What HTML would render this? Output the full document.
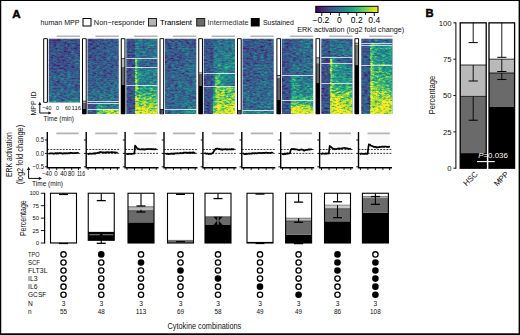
<!DOCTYPE html>
<html><head><meta charset="utf-8"><title>figure</title>
<style>
html,body{margin:0;padding:0;background:#fff;}
body{width:520px;height:335px;overflow:hidden;font-family:"Liberation Sans", sans-serif;}
svg{display:block;font-family:"Liberation Sans", sans-serif;}
text{font-family:"Liberation Sans", sans-serif;}
</style></head><body>
<svg width="520" height="335" viewBox="0 0 520 335" fill="#111">
<defs>
<linearGradient id="vir" x1="0" x2="1" y1="0" y2="0"><stop offset="0.0" stop-color="#440154"/><stop offset="0.1" stop-color="#482475"/><stop offset="0.2" stop-color="#414487"/><stop offset="0.3" stop-color="#355f8d"/><stop offset="0.4" stop-color="#2a788e"/><stop offset="0.5" stop-color="#21918c"/><stop offset="0.6" stop-color="#22a884"/><stop offset="0.7" stop-color="#44bf70"/><stop offset="0.8" stop-color="#7ad151"/><stop offset="0.9" stop-color="#bddf26"/><stop offset="1.0" stop-color="#fde725"/></linearGradient>
<filter id="hf0" x="0" y="0" width="1" height="1" color-interpolation-filters="sRGB"><feTurbulence type="fractalNoise" baseFrequency="0.28 0.6" numOctaves="3" seed="3" result="n"/><feColorMatrix in="n" type="matrix" values="1 0 0 0 0 1 0 0 0 0 1 0 0 0 0 0 0 0 0 1" result="g"/><feComposite in="SourceGraphic" in2="g" operator="arithmetic" k1="0.75" k2="0.62" k3="0.42" k4="-0.21" result="v"/><feTurbulence type="fractalNoise" baseFrequency="0.07 0.11" numOctaves="2" seed="53" result="n2"/><feColorMatrix in="n2" type="matrix" values="1 0 0 0 0 1 0 0 0 0 1 0 0 0 0 0 0 0 0 1" result="g2"/><feComposite in="v" in2="g2" operator="arithmetic" k1="0.3" k2="0.85" k3="0.08" k4="-0.04" result="v2"/><feComponentTransfer in="v2"><feFuncR type="table" tableValues="0.27 0.28 0.25 0.21 0.16 0.13 0.13 0.27 0.48 0.74 0.99"/><feFuncG type="table" tableValues="0 0.14 0.27 0.37 0.47 0.57 0.66 0.75 0.82 0.87 0.91"/><feFuncB type="table" tableValues="0.33 0.46 0.53 0.55 0.56 0.55 0.52 0.44 0.32 0.15 0.15"/><feFuncA type="linear" slope="0" intercept="1"/></feComponentTransfer></filter>
<clipPath id="hc0"><rect x="48.75" y="38.75" width="31.25" height="63.85"/></clipPath>
<linearGradient id="g1" gradientUnits="userSpaceOnUse" x1="48.75" x2="80" y1="0" y2="0"><stop offset="0%" stop-color="#3b3b3b"/><stop offset="26.24%" stop-color="#3b3b3b"/><stop offset="27.52%" stop-color="#3d3d3d"/><stop offset="99.84%" stop-color="#424242"/><stop offset="100%" stop-color="#424242"/></linearGradient>
<linearGradient id="g2" gradientUnits="userSpaceOnUse" x1="0" x2="0" y1="38.75" y2="100.6"><stop offset="0%" stop-color="#fff" stop-opacity="0"/><stop offset="35%" stop-color="#fff" stop-opacity="0.02"/><stop offset="70%" stop-color="#fff" stop-opacity="0.08"/><stop offset="100%" stop-color="#fff" stop-opacity="0.13"/></linearGradient>
<linearGradient id="g3" gradientUnits="userSpaceOnUse" x1="48.75" x2="80" y1="0" y2="0"><stop offset="0%" stop-color="#6b6b6b"/><stop offset="26.24%" stop-color="#6b6b6b"/><stop offset="27.52%" stop-color="#757575"/><stop offset="99.84%" stop-color="#8a8a8a"/><stop offset="100%" stop-color="#8a8a8a"/></linearGradient>
<filter id="hf1" x="0" y="0" width="1" height="1" color-interpolation-filters="sRGB"><feTurbulence type="fractalNoise" baseFrequency="0.28 0.6" numOctaves="3" seed="10" result="n"/><feColorMatrix in="n" type="matrix" values="1 0 0 0 0 1 0 0 0 0 1 0 0 0 0 0 0 0 0 1" result="g"/><feComposite in="SourceGraphic" in2="g" operator="arithmetic" k1="0.75" k2="0.62" k3="0.42" k4="-0.21" result="v"/><feTurbulence type="fractalNoise" baseFrequency="0.07 0.11" numOctaves="2" seed="60" result="n2"/><feColorMatrix in="n2" type="matrix" values="1 0 0 0 0 1 0 0 0 0 1 0 0 0 0 0 0 0 0 1" result="g2"/><feComposite in="v" in2="g2" operator="arithmetic" k1="0.3" k2="0.85" k3="0.08" k4="-0.04" result="v2"/><feComponentTransfer in="v2"><feFuncR type="table" tableValues="0.27 0.28 0.25 0.21 0.16 0.13 0.13 0.27 0.48 0.74 0.99"/><feFuncG type="table" tableValues="0 0.14 0.27 0.37 0.47 0.57 0.66 0.75 0.82 0.87 0.91"/><feFuncB type="table" tableValues="0.33 0.46 0.53 0.55 0.56 0.55 0.52 0.44 0.32 0.15 0.15"/><feFuncA type="linear" slope="0" intercept="1"/></feComponentTransfer></filter>
<clipPath id="hc1"><rect x="87.5" y="38.75" width="31.25" height="75.25"/></clipPath>
<linearGradient id="g4" gradientUnits="userSpaceOnUse" x1="87.5" x2="118.75" y1="0" y2="0"><stop offset="0%" stop-color="#3d3d3d"/><stop offset="26.24%" stop-color="#3d3d3d"/><stop offset="27.52%" stop-color="#424242"/><stop offset="99.84%" stop-color="#4a4a4a"/><stop offset="100%" stop-color="#4a4a4a"/></linearGradient>
<linearGradient id="g5" gradientUnits="userSpaceOnUse" x1="0" x2="0" y1="38.75" y2="101"><stop offset="0%" stop-color="#fff" stop-opacity="0"/><stop offset="50%" stop-color="#fff" stop-opacity="0.03"/><stop offset="80%" stop-color="#fff" stop-opacity="0.1"/><stop offset="100%" stop-color="#fff" stop-opacity="0.14"/></linearGradient>
<linearGradient id="g6" gradientUnits="userSpaceOnUse" x1="87.5" x2="118.75" y1="0" y2="0"><stop offset="0%" stop-color="#383838"/><stop offset="26.24%" stop-color="#383838"/><stop offset="27.52%" stop-color="#737373"/><stop offset="40.32%" stop-color="#5c5c5c"/><stop offset="99.84%" stop-color="#4c4c4c"/><stop offset="100%" stop-color="#4c4c4c"/></linearGradient>
<linearGradient id="g7" gradientUnits="userSpaceOnUse" x1="87.5" x2="118.75" y1="0" y2="0"><stop offset="0%" stop-color="#424242"/><stop offset="26.24%" stop-color="#424242"/><stop offset="27.52%" stop-color="#575757"/><stop offset="37.12%" stop-color="#9e9e9e"/><stop offset="49.92%" stop-color="#757575"/><stop offset="99.84%" stop-color="#6b6b6b"/><stop offset="100%" stop-color="#6b6b6b"/></linearGradient>
<linearGradient id="g8" gradientUnits="userSpaceOnUse" x1="87.5" x2="118.75" y1="0" y2="0"><stop offset="0%" stop-color="#424242"/><stop offset="26.24%" stop-color="#424242"/><stop offset="27.52%" stop-color="#616161"/><stop offset="37.12%" stop-color="#bdbdbd"/><stop offset="99.84%" stop-color="#d6d6d6"/><stop offset="100%" stop-color="#d6d6d6"/></linearGradient>
<filter id="hf2" x="0" y="0" width="1" height="1" color-interpolation-filters="sRGB"><feTurbulence type="fractalNoise" baseFrequency="0.28 0.6" numOctaves="3" seed="17" result="n"/><feColorMatrix in="n" type="matrix" values="1 0 0 0 0 1 0 0 0 0 1 0 0 0 0 0 0 0 0 1" result="g"/><feComposite in="SourceGraphic" in2="g" operator="arithmetic" k1="0.75" k2="0.62" k3="0.42" k4="-0.21" result="v"/><feTurbulence type="fractalNoise" baseFrequency="0.07 0.11" numOctaves="2" seed="67" result="n2"/><feColorMatrix in="n2" type="matrix" values="1 0 0 0 0 1 0 0 0 0 1 0 0 0 0 0 0 0 0 1" result="g2"/><feComposite in="v" in2="g2" operator="arithmetic" k1="0.3" k2="0.85" k3="0.08" k4="-0.04" result="v2"/><feComponentTransfer in="v2"><feFuncR type="table" tableValues="0.27 0.28 0.25 0.21 0.16 0.13 0.13 0.27 0.48 0.74 0.99"/><feFuncG type="table" tableValues="0 0.14 0.27 0.37 0.47 0.57 0.66 0.75 0.82 0.87 0.91"/><feFuncB type="table" tableValues="0.33 0.46 0.53 0.55 0.56 0.55 0.52 0.44 0.32 0.15 0.15"/><feFuncA type="linear" slope="0" intercept="1"/></feComponentTransfer></filter>
<clipPath id="hc2"><rect x="126.25" y="38.75" width="31.25" height="75.25"/></clipPath>
<linearGradient id="g9" gradientUnits="userSpaceOnUse" x1="126.25" x2="157.5" y1="0" y2="0"><stop offset="0%" stop-color="#3d3d3d"/><stop offset="26.24%" stop-color="#3d3d3d"/><stop offset="27.52%" stop-color="#666666"/><stop offset="37.12%" stop-color="#5e5e5e"/><stop offset="99.84%" stop-color="#5c5c5c"/><stop offset="100%" stop-color="#5c5c5c"/></linearGradient>
<linearGradient id="g10" gradientUnits="userSpaceOnUse" x1="126.25" x2="157.5" y1="0" y2="0"><stop offset="0%" stop-color="#3b3b3b"/><stop offset="26.24%" stop-color="#3b3b3b"/><stop offset="27.52%" stop-color="#808080"/><stop offset="30.72%" stop-color="#ebebeb"/><stop offset="35.2%" stop-color="#808080"/><stop offset="46.72%" stop-color="#575757"/><stop offset="99.84%" stop-color="#4a4a4a"/><stop offset="100%" stop-color="#4a4a4a"/></linearGradient>
<linearGradient id="g11" gradientUnits="userSpaceOnUse" x1="126.25" x2="157.5" y1="0" y2="0"><stop offset="0%" stop-color="#3d3d3d"/><stop offset="26.24%" stop-color="#3d3d3d"/><stop offset="27.52%" stop-color="#808080"/><stop offset="30.72%" stop-color="#dbdbdb"/><stop offset="35.84%" stop-color="#8c8c8c"/><stop offset="53.12%" stop-color="#707070"/><stop offset="99.84%" stop-color="#6b6b6b"/><stop offset="100%" stop-color="#6b6b6b"/></linearGradient>
<linearGradient id="g12" gradientUnits="userSpaceOnUse" x1="126.25" x2="157.5" y1="0" y2="0"><stop offset="0%" stop-color="#404040"/><stop offset="26.24%" stop-color="#404040"/><stop offset="27.52%" stop-color="#808080"/><stop offset="30.72%" stop-color="#dbdbdb"/><stop offset="38.72%" stop-color="#949494"/><stop offset="99.84%" stop-color="#858585"/><stop offset="100%" stop-color="#858585"/></linearGradient>
<linearGradient id="g13" gradientUnits="userSpaceOnUse" x1="0" x2="0" y1="85" y2="114"><stop offset="0%" stop-color="#fff" stop-opacity="0"/><stop offset="25%" stop-color="#fff" stop-opacity="0.08"/><stop offset="45%" stop-color="#fff" stop-opacity="0.4"/><stop offset="70%" stop-color="#fff" stop-opacity="0.82"/><stop offset="100%" stop-color="#fff" stop-opacity="1"/></linearGradient>
<filter id="hf3" x="0" y="0" width="1" height="1" color-interpolation-filters="sRGB"><feTurbulence type="fractalNoise" baseFrequency="0.28 0.6" numOctaves="3" seed="24" result="n"/><feColorMatrix in="n" type="matrix" values="1 0 0 0 0 1 0 0 0 0 1 0 0 0 0 0 0 0 0 1" result="g"/><feComposite in="SourceGraphic" in2="g" operator="arithmetic" k1="0.75" k2="0.62" k3="0.42" k4="-0.21" result="v"/><feTurbulence type="fractalNoise" baseFrequency="0.07 0.11" numOctaves="2" seed="74" result="n2"/><feColorMatrix in="n2" type="matrix" values="1 0 0 0 0 1 0 0 0 0 1 0 0 0 0 0 0 0 0 1" result="g2"/><feComposite in="v" in2="g2" operator="arithmetic" k1="0.3" k2="0.85" k3="0.08" k4="-0.04" result="v2"/><feComponentTransfer in="v2"><feFuncR type="table" tableValues="0.27 0.28 0.25 0.21 0.16 0.13 0.13 0.27 0.48 0.74 0.99"/><feFuncG type="table" tableValues="0 0.14 0.27 0.37 0.47 0.57 0.66 0.75 0.82 0.87 0.91"/><feFuncB type="table" tableValues="0.33 0.46 0.53 0.55 0.56 0.55 0.52 0.44 0.32 0.15 0.15"/><feFuncA type="linear" slope="0" intercept="1"/></feComponentTransfer></filter>
<clipPath id="hc3"><rect x="165" y="38.75" width="31.25" height="75.25"/></clipPath>
<linearGradient id="g14" gradientUnits="userSpaceOnUse" x1="165" x2="196.25" y1="0" y2="0"><stop offset="0%" stop-color="#424242"/><stop offset="26.24%" stop-color="#424242"/><stop offset="27.52%" stop-color="#474747"/><stop offset="99.84%" stop-color="#4c4c4c"/><stop offset="100%" stop-color="#4c4c4c"/></linearGradient>
<linearGradient id="g15" gradientUnits="userSpaceOnUse" x1="0" x2="0" y1="38.75" y2="109.2"><stop offset="0%" stop-color="#fff" stop-opacity="0"/><stop offset="30%" stop-color="#fff" stop-opacity="0.03"/><stop offset="60%" stop-color="#fff" stop-opacity="0.07"/><stop offset="100%" stop-color="#fff" stop-opacity="0.1"/></linearGradient>
<linearGradient id="g16" gradientUnits="userSpaceOnUse" x1="165" x2="196.25" y1="0" y2="0"><stop offset="0%" stop-color="#545454"/><stop offset="26.24%" stop-color="#545454"/><stop offset="27.52%" stop-color="#6b6b6b"/><stop offset="99.84%" stop-color="#808080"/><stop offset="100%" stop-color="#808080"/></linearGradient>
<filter id="hf4" x="0" y="0" width="1" height="1" color-interpolation-filters="sRGB"><feTurbulence type="fractalNoise" baseFrequency="0.28 0.6" numOctaves="3" seed="31" result="n"/><feColorMatrix in="n" type="matrix" values="1 0 0 0 0 1 0 0 0 0 1 0 0 0 0 0 0 0 0 1" result="g"/><feComposite in="SourceGraphic" in2="g" operator="arithmetic" k1="0.75" k2="0.62" k3="0.42" k4="-0.21" result="v"/><feTurbulence type="fractalNoise" baseFrequency="0.07 0.11" numOctaves="2" seed="81" result="n2"/><feColorMatrix in="n2" type="matrix" values="1 0 0 0 0 1 0 0 0 0 1 0 0 0 0 0 0 0 0 1" result="g2"/><feComposite in="v" in2="g2" operator="arithmetic" k1="0.3" k2="0.85" k3="0.08" k4="-0.04" result="v2"/><feComponentTransfer in="v2"><feFuncR type="table" tableValues="0.27 0.28 0.25 0.21 0.16 0.13 0.13 0.27 0.48 0.74 0.99"/><feFuncG type="table" tableValues="0 0.14 0.27 0.37 0.47 0.57 0.66 0.75 0.82 0.87 0.91"/><feFuncB type="table" tableValues="0.33 0.46 0.53 0.55 0.56 0.55 0.52 0.44 0.32 0.15 0.15"/><feFuncA type="linear" slope="0" intercept="1"/></feComponentTransfer></filter>
<clipPath id="hc4"><rect x="203.75" y="38.75" width="31.25" height="75.25"/></clipPath>
<linearGradient id="g17" gradientUnits="userSpaceOnUse" x1="203.75" x2="235" y1="0" y2="0"><stop offset="0%" stop-color="#454545"/><stop offset="26.24%" stop-color="#454545"/><stop offset="27.52%" stop-color="#4c4c4c"/><stop offset="46.72%" stop-color="#5e5e5e"/><stop offset="99.84%" stop-color="#636363"/><stop offset="100%" stop-color="#636363"/></linearGradient>
<linearGradient id="g18" gradientUnits="userSpaceOnUse" x1="0" x2="0" y1="38.75" y2="73"><stop offset="0%" stop-color="#fff" stop-opacity="0"/><stop offset="50%" stop-color="#fff" stop-opacity="0.08"/><stop offset="80%" stop-color="#fff" stop-opacity="0.14"/><stop offset="100%" stop-color="#fff" stop-opacity="0.08"/></linearGradient>
<linearGradient id="g19" gradientUnits="userSpaceOnUse" x1="203.75" x2="235" y1="0" y2="0"><stop offset="0%" stop-color="#595959"/><stop offset="26.24%" stop-color="#595959"/><stop offset="27.52%" stop-color="#666666"/><stop offset="53.12%" stop-color="#cccccc"/><stop offset="99.84%" stop-color="#808080"/><stop offset="100%" stop-color="#808080"/></linearGradient>
<linearGradient id="g20" gradientUnits="userSpaceOnUse" x1="203.75" x2="235" y1="0" y2="0"><stop offset="0%" stop-color="#404040"/><stop offset="26.24%" stop-color="#404040"/><stop offset="27.52%" stop-color="#454545"/><stop offset="33.92%" stop-color="#616161"/><stop offset="38.4%" stop-color="#cccccc"/><stop offset="48.32%" stop-color="#8c8c8c"/><stop offset="62.72%" stop-color="#707070"/><stop offset="99.84%" stop-color="#6b6b6b"/><stop offset="100%" stop-color="#6b6b6b"/></linearGradient>
<linearGradient id="g21" gradientUnits="userSpaceOnUse" x1="203.75" x2="235" y1="0" y2="0"><stop offset="0%" stop-color="#424242"/><stop offset="26.24%" stop-color="#424242"/><stop offset="27.52%" stop-color="#454545"/><stop offset="32.64%" stop-color="#616161"/><stop offset="40.32%" stop-color="#cccccc"/><stop offset="59.52%" stop-color="#c7c7c7"/><stop offset="99.84%" stop-color="#adadad"/><stop offset="100%" stop-color="#adadad"/></linearGradient>
<linearGradient id="g22" gradientUnits="userSpaceOnUse" x1="0" x2="0" y1="86.6" y2="114"><stop offset="0%" stop-color="#fff" stop-opacity="0.08"/><stop offset="40%" stop-color="#fff" stop-opacity="0.28"/><stop offset="100%" stop-color="#fff" stop-opacity="0.8"/></linearGradient>
<filter id="hf5" x="0" y="0" width="1" height="1" color-interpolation-filters="sRGB"><feTurbulence type="fractalNoise" baseFrequency="0.28 0.6" numOctaves="3" seed="38" result="n"/><feColorMatrix in="n" type="matrix" values="1 0 0 0 0 1 0 0 0 0 1 0 0 0 0 0 0 0 0 1" result="g"/><feComposite in="SourceGraphic" in2="g" operator="arithmetic" k1="0.75" k2="0.62" k3="0.42" k4="-0.21" result="v"/><feTurbulence type="fractalNoise" baseFrequency="0.07 0.11" numOctaves="2" seed="88" result="n2"/><feColorMatrix in="n2" type="matrix" values="1 0 0 0 0 1 0 0 0 0 1 0 0 0 0 0 0 0 0 1" result="g2"/><feComposite in="v" in2="g2" operator="arithmetic" k1="0.3" k2="0.85" k3="0.08" k4="-0.04" result="v2"/><feComponentTransfer in="v2"><feFuncR type="table" tableValues="0.27 0.28 0.25 0.21 0.16 0.13 0.13 0.27 0.48 0.74 0.99"/><feFuncG type="table" tableValues="0 0.14 0.27 0.37 0.47 0.57 0.66 0.75 0.82 0.87 0.91"/><feFuncB type="table" tableValues="0.33 0.46 0.53 0.55 0.56 0.55 0.52 0.44 0.32 0.15 0.15"/><feFuncA type="linear" slope="0" intercept="1"/></feComponentTransfer></filter>
<clipPath id="hc5"><rect x="242.5" y="38.75" width="31.25" height="75.25"/></clipPath>
<linearGradient id="g23" gradientUnits="userSpaceOnUse" x1="242.5" x2="273.75" y1="0" y2="0"><stop offset="0%" stop-color="#424242"/><stop offset="26.24%" stop-color="#424242"/><stop offset="27.52%" stop-color="#474747"/><stop offset="99.84%" stop-color="#4a4a4a"/><stop offset="100%" stop-color="#4a4a4a"/></linearGradient>
<linearGradient id="g24" gradientUnits="userSpaceOnUse" x1="0" x2="0" y1="38.75" y2="110.6"><stop offset="0%" stop-color="#fff" stop-opacity="0"/><stop offset="30%" stop-color="#fff" stop-opacity="0.02"/><stop offset="60%" stop-color="#fff" stop-opacity="0.06"/><stop offset="100%" stop-color="#fff" stop-opacity="0.1"/></linearGradient>
<linearGradient id="g25" gradientUnits="userSpaceOnUse" x1="242.5" x2="273.75" y1="0" y2="0"><stop offset="0%" stop-color="#5c5c5c"/><stop offset="26.24%" stop-color="#5c5c5c"/><stop offset="27.52%" stop-color="#6b6b6b"/><stop offset="99.84%" stop-color="#7a7a7a"/><stop offset="100%" stop-color="#7a7a7a"/></linearGradient>
<filter id="hf6" x="0" y="0" width="1" height="1" color-interpolation-filters="sRGB"><feTurbulence type="fractalNoise" baseFrequency="0.28 0.6" numOctaves="3" seed="45" result="n"/><feColorMatrix in="n" type="matrix" values="1 0 0 0 0 1 0 0 0 0 1 0 0 0 0 0 0 0 0 1" result="g"/><feComposite in="SourceGraphic" in2="g" operator="arithmetic" k1="0.75" k2="0.62" k3="0.42" k4="-0.21" result="v"/><feTurbulence type="fractalNoise" baseFrequency="0.07 0.11" numOctaves="2" seed="95" result="n2"/><feColorMatrix in="n2" type="matrix" values="1 0 0 0 0 1 0 0 0 0 1 0 0 0 0 0 0 0 0 1" result="g2"/><feComposite in="v" in2="g2" operator="arithmetic" k1="0.3" k2="0.85" k3="0.08" k4="-0.04" result="v2"/><feComponentTransfer in="v2"><feFuncR type="table" tableValues="0.27 0.28 0.25 0.21 0.16 0.13 0.13 0.27 0.48 0.74 0.99"/><feFuncG type="table" tableValues="0 0.14 0.27 0.37 0.47 0.57 0.66 0.75 0.82 0.87 0.91"/><feFuncB type="table" tableValues="0.33 0.46 0.53 0.55 0.56 0.55 0.52 0.44 0.32 0.15 0.15"/><feFuncA type="linear" slope="0" intercept="1"/></feComponentTransfer></filter>
<clipPath id="hc6"><rect x="281.9" y="38.75" width="31.25" height="75.25"/></clipPath>
<linearGradient id="g26" gradientUnits="userSpaceOnUse" x1="281.9" x2="313.15" y1="0" y2="0"><stop offset="0%" stop-color="#424242"/><stop offset="26.24%" stop-color="#424242"/><stop offset="27.52%" stop-color="#4f4f4f"/><stop offset="99.84%" stop-color="#595959"/><stop offset="100%" stop-color="#595959"/></linearGradient>
<linearGradient id="g27" gradientUnits="userSpaceOnUse" x1="281.9" x2="313.15" y1="0" y2="0"><stop offset="0%" stop-color="#404040"/><stop offset="26.24%" stop-color="#404040"/><stop offset="27.52%" stop-color="#6b6b6b"/><stop offset="43.52%" stop-color="#808080"/><stop offset="99.84%" stop-color="#575757"/><stop offset="100%" stop-color="#575757"/></linearGradient>
<linearGradient id="g28" gradientUnits="userSpaceOnUse" x1="281.9" x2="313.15" y1="0" y2="0"><stop offset="0%" stop-color="#3d3d3d"/><stop offset="26.24%" stop-color="#3d3d3d"/><stop offset="27.52%" stop-color="#575757"/><stop offset="33.92%" stop-color="#8a8a8a"/><stop offset="53.12%" stop-color="#757575"/><stop offset="99.84%" stop-color="#757575"/><stop offset="100%" stop-color="#757575"/></linearGradient>
<linearGradient id="g29" gradientUnits="userSpaceOnUse" x1="0" x2="0" y1="78" y2="100.5"><stop offset="0%" stop-color="#fff" stop-opacity="0"/><stop offset="60%" stop-color="#fff" stop-opacity="0.02"/><stop offset="85%" stop-color="#fff" stop-opacity="0.2"/><stop offset="100%" stop-color="#fff" stop-opacity="0.4"/></linearGradient>
<linearGradient id="g30" gradientUnits="userSpaceOnUse" x1="281.9" x2="313.15" y1="0" y2="0"><stop offset="0%" stop-color="#404040"/><stop offset="26.24%" stop-color="#404040"/><stop offset="27.52%" stop-color="#666666"/><stop offset="32.32%" stop-color="#a8a8a8"/><stop offset="99.84%" stop-color="#9e9e9e"/><stop offset="100%" stop-color="#9e9e9e"/></linearGradient>
<linearGradient id="g31" gradientUnits="userSpaceOnUse" x1="0" x2="0" y1="100.5" y2="114"><stop offset="0%" stop-color="#fff" stop-opacity="0"/><stop offset="25%" stop-color="#fff" stop-opacity="0.1"/><stop offset="50%" stop-color="#fff" stop-opacity="0.8"/><stop offset="100%" stop-color="#fff" stop-opacity="1"/></linearGradient>
<filter id="hf7" x="0" y="0" width="1" height="1" color-interpolation-filters="sRGB"><feTurbulence type="fractalNoise" baseFrequency="0.28 0.6" numOctaves="3" seed="52" result="n"/><feColorMatrix in="n" type="matrix" values="1 0 0 0 0 1 0 0 0 0 1 0 0 0 0 0 0 0 0 1" result="g"/><feComposite in="SourceGraphic" in2="g" operator="arithmetic" k1="0.75" k2="0.62" k3="0.42" k4="-0.21" result="v"/><feTurbulence type="fractalNoise" baseFrequency="0.07 0.11" numOctaves="2" seed="102" result="n2"/><feColorMatrix in="n2" type="matrix" values="1 0 0 0 0 1 0 0 0 0 1 0 0 0 0 0 0 0 0 1" result="g2"/><feComposite in="v" in2="g2" operator="arithmetic" k1="0.3" k2="0.85" k3="0.08" k4="-0.04" result="v2"/><feComponentTransfer in="v2"><feFuncR type="table" tableValues="0.27 0.28 0.25 0.21 0.16 0.13 0.13 0.27 0.48 0.74 0.99"/><feFuncG type="table" tableValues="0 0.14 0.27 0.37 0.47 0.57 0.66 0.75 0.82 0.87 0.91"/><feFuncB type="table" tableValues="0.33 0.46 0.53 0.55 0.56 0.55 0.52 0.44 0.32 0.15 0.15"/><feFuncA type="linear" slope="0" intercept="1"/></feComponentTransfer></filter>
<clipPath id="hc7"><rect x="321.25" y="38.75" width="31.25" height="75.25"/></clipPath>
<linearGradient id="g32" gradientUnits="userSpaceOnUse" x1="321.25" x2="352.5" y1="0" y2="0"><stop offset="0%" stop-color="#424242"/><stop offset="26.24%" stop-color="#424242"/><stop offset="27.52%" stop-color="#6b6b6b"/><stop offset="35.52%" stop-color="#5e5e5e"/><stop offset="99.84%" stop-color="#5e5e5e"/><stop offset="100%" stop-color="#5e5e5e"/></linearGradient>
<linearGradient id="g33" gradientUnits="userSpaceOnUse" x1="321.25" x2="352.5" y1="0" y2="0"><stop offset="0%" stop-color="#333333"/><stop offset="26.24%" stop-color="#333333"/><stop offset="27.52%" stop-color="#8c8c8c"/><stop offset="31.36%" stop-color="#ffffff"/><stop offset="37.12%" stop-color="#999999"/><stop offset="46.72%" stop-color="#575757"/><stop offset="99.84%" stop-color="#4a4a4a"/><stop offset="100%" stop-color="#4a4a4a"/></linearGradient>
<linearGradient id="g34" gradientUnits="userSpaceOnUse" x1="321.25" x2="352.5" y1="0" y2="0"><stop offset="0%" stop-color="#3d3d3d"/><stop offset="26.24%" stop-color="#3d3d3d"/><stop offset="27.52%" stop-color="#808080"/><stop offset="31.36%" stop-color="#e0e0e0"/><stop offset="36.48%" stop-color="#949494"/><stop offset="56.32%" stop-color="#757575"/><stop offset="99.84%" stop-color="#757575"/><stop offset="100%" stop-color="#757575"/></linearGradient>
<linearGradient id="g35" gradientUnits="userSpaceOnUse" x1="0" x2="0" y1="63.8" y2="83.3"><stop offset="0%" stop-color="#fff" stop-opacity="0"/><stop offset="60%" stop-color="#fff" stop-opacity="0.02"/><stop offset="100%" stop-color="#fff" stop-opacity="0.2"/></linearGradient>
<linearGradient id="g36" gradientUnits="userSpaceOnUse" x1="321.25" x2="352.5" y1="0" y2="0"><stop offset="0%" stop-color="#404040"/><stop offset="26.24%" stop-color="#404040"/><stop offset="27.52%" stop-color="#808080"/><stop offset="30.72%" stop-color="#e6e6e6"/><stop offset="40.32%" stop-color="#a3a3a3"/><stop offset="99.84%" stop-color="#999999"/><stop offset="100%" stop-color="#999999"/></linearGradient>
<linearGradient id="g37" gradientUnits="userSpaceOnUse" x1="0" x2="0" y1="83.3" y2="114"><stop offset="0%" stop-color="#fff" stop-opacity="0"/><stop offset="25%" stop-color="#fff" stop-opacity="0.1"/><stop offset="50%" stop-color="#fff" stop-opacity="0.6"/><stop offset="80%" stop-color="#fff" stop-opacity="0.95"/><stop offset="100%" stop-color="#fff" stop-opacity="1"/></linearGradient>
<filter id="hf8" x="0" y="0" width="1" height="1" color-interpolation-filters="sRGB"><feTurbulence type="fractalNoise" baseFrequency="0.28 0.6" numOctaves="3" seed="59" result="n"/><feColorMatrix in="n" type="matrix" values="1 0 0 0 0 1 0 0 0 0 1 0 0 0 0 0 0 0 0 1" result="g"/><feComposite in="SourceGraphic" in2="g" operator="arithmetic" k1="0.75" k2="0.62" k3="0.42" k4="-0.21" result="v"/><feTurbulence type="fractalNoise" baseFrequency="0.07 0.11" numOctaves="2" seed="109" result="n2"/><feColorMatrix in="n2" type="matrix" values="1 0 0 0 0 1 0 0 0 0 1 0 0 0 0 0 0 0 0 1" result="g2"/><feComposite in="v" in2="g2" operator="arithmetic" k1="0.3" k2="0.85" k3="0.08" k4="-0.04" result="v2"/><feComponentTransfer in="v2"><feFuncR type="table" tableValues="0.27 0.28 0.25 0.21 0.16 0.13 0.13 0.27 0.48 0.74 0.99"/><feFuncG type="table" tableValues="0 0.14 0.27 0.37 0.47 0.57 0.66 0.75 0.82 0.87 0.91"/><feFuncB type="table" tableValues="0.33 0.46 0.53 0.55 0.56 0.55 0.52 0.44 0.32 0.15 0.15"/><feFuncA type="linear" slope="0" intercept="1"/></feComponentTransfer></filter>
<clipPath id="hc8"><rect x="361.25" y="38.75" width="31.25" height="75.25"/></clipPath>
<linearGradient id="g38" gradientUnits="userSpaceOnUse" x1="361.25" x2="392.5" y1="0" y2="0"><stop offset="0%" stop-color="#4a4a4a"/><stop offset="26.24%" stop-color="#4a4a4a"/><stop offset="27.52%" stop-color="#545454"/><stop offset="99.84%" stop-color="#5e5e5e"/><stop offset="100%" stop-color="#5e5e5e"/></linearGradient>
<linearGradient id="g39" gradientUnits="userSpaceOnUse" x1="361.25" x2="392.5" y1="0" y2="0"><stop offset="0%" stop-color="#474747"/><stop offset="26.24%" stop-color="#474747"/><stop offset="27.52%" stop-color="#7a7a7a"/><stop offset="37.12%" stop-color="#adadad"/><stop offset="99.84%" stop-color="#616161"/><stop offset="100%" stop-color="#616161"/></linearGradient>
<linearGradient id="g40" gradientUnits="userSpaceOnUse" x1="361.25" x2="392.5" y1="0" y2="0"><stop offset="0%" stop-color="#474747"/><stop offset="26.24%" stop-color="#474747"/><stop offset="27.52%" stop-color="#808080"/><stop offset="31.36%" stop-color="#d1d1d1"/><stop offset="37.76%" stop-color="#949494"/><stop offset="59.52%" stop-color="#808080"/><stop offset="99.84%" stop-color="#7a7a7a"/><stop offset="100%" stop-color="#7a7a7a"/></linearGradient>
<linearGradient id="g41" gradientUnits="userSpaceOnUse" x1="0" x2="0" y1="45.2" y2="65.6"><stop offset="0%" stop-color="#fff" stop-opacity="0"/><stop offset="88%" stop-color="#fff" stop-opacity="0"/><stop offset="95%" stop-color="#fff" stop-opacity="0.6"/><stop offset="100%" stop-color="#fff" stop-opacity="0.4"/></linearGradient>
<linearGradient id="g42" gradientUnits="userSpaceOnUse" x1="361.25" x2="392.5" y1="0" y2="0"><stop offset="0%" stop-color="#474747"/><stop offset="26.24%" stop-color="#474747"/><stop offset="27.52%" stop-color="#808080"/><stop offset="30.72%" stop-color="#d6d6d6"/><stop offset="41.92%" stop-color="#999999"/><stop offset="99.84%" stop-color="#8f8f8f"/><stop offset="100%" stop-color="#8f8f8f"/></linearGradient>
<linearGradient id="g43" gradientUnits="userSpaceOnUse" x1="0" x2="0" y1="65.6" y2="114"><stop offset="0%" stop-color="#fff" stop-opacity="0"/><stop offset="30%" stop-color="#fff" stop-opacity="0.1"/><stop offset="50%" stop-color="#fff" stop-opacity="0.4"/><stop offset="75%" stop-color="#fff" stop-opacity="0.85"/><stop offset="100%" stop-color="#fff" stop-opacity="1"/></linearGradient>
<filter id="blur1" x="-0.1" y="-0.1" width="1.2" height="1.2"><feGaussianBlur stdDeviation="1.2"/></filter>
</defs>
<rect x="0" y="0" width="520" height="335" fill="#fff"/>
<rect x="0" y="0" width="520" height="1" fill="#000"/>
<rect x="0" y="0" width="1.25" height="335" fill="#000"/>
<rect x="518.6" y="0" width="1.4" height="335" fill="#000"/>
<rect x="0" y="333.3" width="520" height="1.7" fill="#000"/>
<text x="12.2" y="17.8" font-size="11.6" font-weight="bold" fill="#000" stroke="#000" stroke-width="0.45">A</text>
<text x="425.6" y="17.4" font-size="11.3" font-weight="bold" fill="#000" stroke="#000" stroke-width="0.4">B</text>
<text x="40.5" y="25" font-size="7" textLength="39" lengthAdjust="spacingAndGlyphs">human MPP</text>
<rect x="83" y="18.5" width="8" height="7.5" fill="#fff" stroke="#000" stroke-width="1"/>
<text x="93.8" y="25" font-size="7" textLength="51.2" lengthAdjust="spacingAndGlyphs">Non−responder</text>
<rect x="148.5" y="18.5" width="8" height="7.5" fill="#b4b4b4" stroke="#222" stroke-width="1"/>
<text x="160" y="25" font-size="7" textLength="32" lengthAdjust="spacingAndGlyphs" fill="#000" stroke="#000" stroke-width="0.07">Transient</text>
<rect x="196.7" y="18.5" width="8" height="7.5" fill="#6b6b6b" stroke="#222" stroke-width="1"/>
<text x="207.5" y="25" font-size="7" textLength="41.2" lengthAdjust="spacingAndGlyphs" fill="#333">Intermediate</text>
<rect x="250.8" y="18" width="8.9" height="8.5" fill="#000"/>
<text x="263" y="25" font-size="7" textLength="30.8" lengthAdjust="spacingAndGlyphs">Sustained</text>
<rect x="315.8" y="6.3" width="62.2" height="6.2" fill="url(#vir)" stroke="#000" stroke-width="1"/>
<line x1="321.75" y1="12.5" x2="321.75" y2="16" stroke="#000" stroke-width="0.9"/>
<line x1="330.5" y1="12.5" x2="330.5" y2="14.8" stroke="#000" stroke-width="0.9"/>
<line x1="339.25" y1="12.5" x2="339.25" y2="16" stroke="#000" stroke-width="0.9"/>
<line x1="348" y1="12.5" x2="348" y2="14.8" stroke="#000" stroke-width="0.9"/>
<line x1="356.75" y1="12.5" x2="356.75" y2="16" stroke="#000" stroke-width="0.9"/>
<line x1="365.5" y1="12.5" x2="365.5" y2="14.8" stroke="#000" stroke-width="0.9"/>
<line x1="374.25" y1="12.5" x2="374.25" y2="16" stroke="#000" stroke-width="0.9"/>
<text x="320.95" y="22.5" font-size="8.5" text-anchor="middle" fill="#000">−0.2</text>
<text x="339.25" y="22.5" font-size="8.5" text-anchor="middle" fill="#000">0</text>
<text x="356.75" y="22.5" font-size="8.5" text-anchor="middle" fill="#000">0.2</text>
<text x="374.25" y="22.5" font-size="8.5" text-anchor="middle" fill="#000">0.4</text>
<text x="297.2" y="31.8" font-size="7.3" textLength="107" lengthAdjust="spacingAndGlyphs">ERK activation (log2 fold change)</text>
<rect x="56.65" y="35.5" width="23.35" height="1.5" fill="#b6b4bb"/>
<g clip-path="url(#hc0)"><g filter="url(#hf0)">
<rect x="48.75" y="38.75" width="31.25" height="63.85" fill="#525252"/>
<rect x="48.75" y="38.75" width="31.25" height="61.85" fill="url(#g1)"/>
<rect x="48.75" y="38.75" width="31.25" height="61.85" fill="url(#g2)"/>
<rect x="48.75" y="100.6" width="31.25" height="2" fill="url(#g3)"/>
</g></g>
<rect x="43.2" y="38.15" width="4.7" height="64.65" fill="#000" rx="0.8"/>
<rect x="44.2" y="39.15" width="2.7" height="62.75" fill="#fff"/>
<rect x="95.4" y="35.5" width="23.35" height="1.5" fill="#b6b4bb"/>
<g clip-path="url(#hc1)"><g filter="url(#hf1)">
<rect x="87.5" y="38.75" width="31.25" height="75.25" fill="#525252"/>
<rect x="87.5" y="38.75" width="31.25" height="62.25" fill="url(#g4)"/>
<rect x="87.5" y="38.75" width="31.25" height="62.25" fill="url(#g5)"/>
<rect x="87.5" y="101" width="31.25" height="2.2" fill="url(#g6)"/>
<rect x="87.5" y="103.2" width="31.25" height="5.8" fill="url(#g7)"/>
<rect x="87.5" y="109" width="31.25" height="5" fill="url(#g8)"/>
</g></g>
<line x1="87.5" y1="101.5" x2="118.75" y2="101.5" stroke="#f4f7f9" stroke-width="0.9" opacity="0.85"/>
<line x1="87.5" y1="103.5" x2="118.75" y2="103.5" stroke="#f4f7f9" stroke-width="0.9" opacity="0.85"/>
<line x1="87.5" y1="109.5" x2="118.75" y2="109.5" stroke="#f4f7f9" stroke-width="0.9" opacity="0.85"/>
<rect x="82" y="38.15" width="4.7" height="76.05" fill="#000" rx="0.8"/>
<rect x="83" y="39.15" width="2.7" height="61.65" fill="#fff"/>
<rect x="83" y="101.4" width="2.7" height="1.8" fill="#b8b8b8"/>
<rect x="83" y="103.2" width="2.7" height="5.8" fill="#666"/>
<rect x="83" y="109" width="2.7" height="5" fill="#000"/>
<rect x="134.15" y="35.5" width="23.35" height="1.5" fill="#b6b4bb"/>
<g clip-path="url(#hc2)"><g filter="url(#hf2)">
<rect x="126.25" y="38.75" width="31.25" height="75.25" fill="#525252"/>
<rect x="126.25" y="38.75" width="31.25" height="19.75" fill="url(#g9)"/>
<rect x="126.25" y="58.5" width="31.25" height="8.5" fill="url(#g10)"/>
<rect x="126.25" y="67" width="31.25" height="18" fill="url(#g11)"/>
<rect x="126.25" y="85" width="31.25" height="29" fill="url(#g12)"/>
<rect x="135.45" y="85" width="22.05" height="29" fill="url(#g13)"/>
</g></g>
<line x1="126.25" y1="58.5" x2="157.5" y2="58.5" stroke="#f4f7f9" stroke-width="0.9" opacity="0.85"/>
<line x1="126.25" y1="67.5" x2="157.5" y2="67.5" stroke="#f4f7f9" stroke-width="0.9" opacity="0.85"/>
<line x1="126.25" y1="85.5" x2="157.5" y2="85.5" stroke="#f4f7f9" stroke-width="0.9" opacity="0.85"/>
<rect x="120.75" y="38.15" width="4.7" height="76.05" fill="#000" rx="0.8"/>
<rect x="121.75" y="39.15" width="2.7" height="19.15" fill="#fff"/>
<rect x="121.75" y="58.8" width="2.7" height="8.2" fill="#b8b8b8"/>
<rect x="121.75" y="67" width="2.7" height="18" fill="#666"/>
<rect x="121.75" y="85" width="2.7" height="29" fill="#000"/>
<rect x="172.9" y="35.5" width="23.35" height="1.5" fill="#b6b4bb"/>
<g clip-path="url(#hc3)"><g filter="url(#hf3)">
<rect x="165" y="38.75" width="31.25" height="75.25" fill="#525252"/>
<rect x="165" y="38.75" width="31.25" height="70.45" fill="url(#g14)"/>
<rect x="165" y="38.75" width="31.25" height="70.45" fill="url(#g15)"/>
<rect x="165" y="109.2" width="31.25" height="4.8" fill="url(#g16)"/>
</g></g>
<line x1="165" y1="109.5" x2="196.25" y2="109.5" stroke="#f4f7f9" stroke-width="0.9" opacity="0.85"/>
<rect x="159.5" y="38.15" width="4.7" height="76.05" fill="#000" rx="0.8"/>
<rect x="160.5" y="39.15" width="2.7" height="69.85" fill="#fff"/>
<rect x="160.5" y="109.6" width="2.7" height="4.4" fill="#555"/>
<rect x="211.65" y="35.5" width="23.35" height="1.5" fill="#b6b4bb"/>
<g clip-path="url(#hc4)"><g filter="url(#hf4)">
<rect x="203.75" y="38.75" width="31.25" height="75.25" fill="#525252"/>
<rect x="203.75" y="38.75" width="31.25" height="34.25" fill="url(#g17)"/>
<rect x="212.95" y="38.75" width="22.05" height="34.25" fill="url(#g18)"/>
<rect x="203.75" y="73" width="31.25" height="1.5" fill="url(#g19)"/>
<rect x="203.75" y="74.5" width="31.25" height="12.1" fill="url(#g20)"/>
<rect x="203.75" y="86.6" width="31.25" height="27.4" fill="url(#g21)"/>
<rect x="212.95" y="86.6" width="22.05" height="27.4" fill="url(#g22)"/>
</g></g>
<line x1="203.75" y1="73.5" x2="235" y2="73.5" stroke="#f4f7f9" stroke-width="0.9" opacity="0.85"/>
<line x1="203.75" y1="86.5" x2="235" y2="86.5" stroke="#f4f7f9" stroke-width="0.9" opacity="0.85"/>
<rect x="198.25" y="38.15" width="4.7" height="76.05" fill="#000" rx="0.8"/>
<rect x="199.25" y="39.15" width="2.7" height="33.45" fill="#fff"/>
<rect x="199.25" y="73" width="2.7" height="1.5" fill="#b8b8b8"/>
<rect x="199.25" y="74.5" width="2.7" height="11.5" fill="#666"/>
<rect x="199.25" y="86" width="2.7" height="28" fill="#000"/>
<rect x="250.4" y="35.5" width="23.35" height="1.5" fill="#b6b4bb"/>
<g clip-path="url(#hc5)"><g filter="url(#hf5)">
<rect x="242.5" y="38.75" width="31.25" height="75.25" fill="#525252"/>
<rect x="242.5" y="38.75" width="31.25" height="71.85" fill="url(#g23)"/>
<rect x="242.5" y="38.75" width="31.25" height="71.85" fill="url(#g24)"/>
<rect x="242.5" y="110.6" width="31.25" height="3.4" fill="url(#g25)"/>
</g></g>
<line x1="242.5" y1="110.5" x2="273.75" y2="110.5" stroke="#f4f7f9" stroke-width="0.9" opacity="0.85"/>
<rect x="237" y="38.15" width="4.7" height="76.05" fill="#000" rx="0.8"/>
<rect x="238" y="39.15" width="2.7" height="71.05" fill="#fff"/>
<rect x="238" y="110.8" width="2.7" height="3.2" fill="#555"/>
<rect x="289.8" y="35.5" width="23.35" height="1.5" fill="#b6b4bb"/>
<g clip-path="url(#hc6)"><g filter="url(#hf6)">
<rect x="281.9" y="38.75" width="31.25" height="75.25" fill="#525252"/>
<rect x="281.9" y="38.75" width="31.25" height="36.85" fill="url(#g26)"/>
<rect x="281.9" y="75.6" width="31.25" height="2.4" fill="url(#g27)"/>
<rect x="281.9" y="78" width="31.25" height="22.5" fill="url(#g28)"/>
<rect x="291.1" y="78" width="22.05" height="22.5" fill="url(#g29)"/>
<rect x="281.9" y="100.5" width="31.25" height="13.5" fill="url(#g30)"/>
<rect x="291.1" y="100.5" width="22.05" height="13.5" fill="url(#g31)"/>
</g></g>
<line x1="281.9" y1="75.5" x2="313.15" y2="75.5" stroke="#f4f7f9" stroke-width="0.9" opacity="0.85"/>
<line x1="281.9" y1="100.5" x2="313.15" y2="100.5" stroke="#f4f7f9" stroke-width="0.9" opacity="0.85"/>
<rect x="276.4" y="38.15" width="4.7" height="76.05" fill="#000" rx="0.8"/>
<rect x="277.4" y="39.15" width="2.7" height="36.05" fill="#fff"/>
<rect x="277.4" y="76" width="2.7" height="2" fill="#c4c4c4"/>
<rect x="277.4" y="78" width="2.7" height="22.3" fill="#666"/>
<rect x="277.4" y="100.3" width="2.7" height="13.7" fill="#000"/>
<rect x="329.15" y="35.5" width="23.35" height="1.5" fill="#b6b4bb"/>
<g clip-path="url(#hc7)"><g filter="url(#hf7)">
<rect x="321.25" y="38.75" width="31.25" height="75.25" fill="#525252"/>
<rect x="321.25" y="38.75" width="31.25" height="19.05" fill="url(#g32)"/>
<rect x="321.25" y="57.8" width="31.25" height="6" fill="url(#g33)"/>
<rect x="321.25" y="63.8" width="31.25" height="19.5" fill="url(#g34)"/>
<rect x="330.45" y="63.8" width="22.05" height="19.5" fill="url(#g35)"/>
<rect x="321.25" y="83.3" width="31.25" height="30.7" fill="url(#g36)"/>
<rect x="330.45" y="83.3" width="22.05" height="30.7" fill="url(#g37)"/>
</g></g>
<line x1="321.25" y1="57.5" x2="352.5" y2="57.5" stroke="#f4f7f9" stroke-width="0.9" opacity="0.85"/>
<line x1="321.25" y1="63.5" x2="352.5" y2="63.5" stroke="#f4f7f9" stroke-width="0.9" opacity="0.85"/>
<line x1="321.25" y1="83.5" x2="352.5" y2="83.5" stroke="#f4f7f9" stroke-width="0.9" opacity="0.85"/>
<rect x="315.5" y="38.15" width="4.7" height="76.05" fill="#000" rx="0.8"/>
<rect x="316.5" y="39.15" width="2.7" height="18.35" fill="#fff"/>
<rect x="316.5" y="58.2" width="2.7" height="5.6" fill="#b8b8b8"/>
<rect x="316.5" y="63.8" width="2.7" height="19.5" fill="#666"/>
<rect x="316.5" y="83.3" width="2.7" height="30.7" fill="#000"/>
<rect x="369.15" y="35.5" width="23.35" height="1.5" fill="#b6b4bb"/>
<g clip-path="url(#hc8)"><g filter="url(#hf8)">
<rect x="361.25" y="38.75" width="31.25" height="75.25" fill="#525252"/>
<rect x="361.25" y="38.75" width="31.25" height="4.35" fill="url(#g38)"/>
<rect x="361.25" y="43.1" width="31.25" height="2.1" fill="url(#g39)"/>
<rect x="361.25" y="45.2" width="31.25" height="20.4" fill="url(#g40)"/>
<rect x="370.45" y="45.2" width="22.05" height="20.4" fill="url(#g41)"/>
<rect x="361.25" y="65.6" width="31.25" height="48.4" fill="url(#g42)"/>
<rect x="370.45" y="65.6" width="22.05" height="48.4" fill="url(#g43)"/>
</g></g>
<line x1="361.25" y1="43.5" x2="392.5" y2="43.5" stroke="#f4f7f9" stroke-width="0.9" opacity="0.85"/>
<line x1="361.25" y1="45.5" x2="392.5" y2="45.5" stroke="#f4f7f9" stroke-width="0.9" opacity="0.85"/>
<line x1="361.25" y1="65.5" x2="392.5" y2="65.5" stroke="#f4f7f9" stroke-width="0.9" opacity="0.85"/>
<rect x="354.4" y="38.15" width="4.7" height="76.05" fill="#000" rx="0.8"/>
<rect x="355.4" y="39.15" width="2.7" height="3.65" fill="#fff"/>
<rect x="355.4" y="43.4" width="2.7" height="1.8" fill="#b8b8b8"/>
<rect x="355.4" y="45.2" width="2.7" height="20.2" fill="#777"/>
<rect x="355.4" y="65.4" width="2.7" height="48.6" fill="#000"/>
<path d="M39.8 103.2V113H49.6" fill="none" stroke="#111" stroke-width="1"/>
<path d="M38.2 105l1.6-3.2 1.6 3.2z M48.4 111.4l3.2 1.6-3.2 1.6z" fill="#111"/>
<text x="47" y="109.5" font-size="6.2" text-anchor="middle" textLength="9" lengthAdjust="spacingAndGlyphs">−40</text>
<text x="57.5" y="109.5" font-size="6.2" text-anchor="middle" textLength="3" lengthAdjust="spacingAndGlyphs">0</text>
<text x="67.8" y="109.5" font-size="6.2" text-anchor="middle" textLength="5.8" lengthAdjust="spacingAndGlyphs">60</text>
<text x="76.3" y="109.5" font-size="6.2" text-anchor="middle" textLength="9.4" lengthAdjust="spacingAndGlyphs">116</text>
<text x="43.5" y="120.6" font-size="7.4" textLength="30.5" lengthAdjust="spacingAndGlyphs">Time (min)</text>
<text x="36" y="103.5" font-size="7.2" text-anchor="middle" textLength="24" lengthAdjust="spacingAndGlyphs" transform="rotate(-90 36 103.5)">MPP ID</text>
<g filter="url(#blur1)" opacity="0.13">
<rect x="56.7" y="150.18" width="21.75" height="6.43" fill="#d8d8d8"/>
<rect x="48.8" y="150.72" width="7.9" height="5.36" fill="#dcdcdc"/>
</g>
<rect x="56.3" y="132.5" width="22.35" height="1.8" fill="#b4b4b4"/>
<line x1="47.3" y1="149.51" x2="80.8" y2="149.51" stroke="#000" stroke-width="0.75" stroke-dasharray="1.9 1.2"/>
<line x1="47.3" y1="153.4" x2="80.8" y2="153.4" stroke="#000" stroke-width="0.75" stroke-dasharray="1.9 1.2"/>
<path d="M47.3 132V167.8H80.8" fill="none" stroke="#000" stroke-width="1.4"/>
<line x1="45" y1="140" x2="47.3" y2="140" stroke="#000" stroke-width="0.9"/>
<line x1="45" y1="153.4" x2="47.3" y2="153.4" stroke="#000" stroke-width="0.9"/>
<line x1="45" y1="166.8" x2="47.3" y2="166.8" stroke="#000" stroke-width="0.9"/>
<line x1="49.2" y1="167.8" x2="49.2" y2="170.1" stroke="#000" stroke-width="0.9"/>
<line x1="56.7" y1="167.8" x2="56.7" y2="170.1" stroke="#000" stroke-width="0.9"/>
<line x1="64.2" y1="167.8" x2="64.2" y2="170.1" stroke="#000" stroke-width="0.9"/>
<line x1="71.7" y1="167.8" x2="71.7" y2="170.1" stroke="#000" stroke-width="0.9"/>
<line x1="78.45" y1="167.8" x2="78.45" y2="170.1" stroke="#000" stroke-width="0.9"/>
<polyline points="49.2,153.63 49.76,153.45 50.32,153.27 50.89,153.33 51.45,153.33 52.01,153.54 52.57,153.33 53.14,153.51 53.7,153.78 54.26,153.52 54.82,153.76 55.39,153.17 55.95,153.14 56.51,153.51 56.51,153.53 56.7,153.23 56.89,153.58 57.07,153.59 57.26,153.58 57.45,153.47 57.64,153.29 58.01,153.06 58.39,153.53 58.95,153.03 59.51,153.26 60.07,153.02 60.64,153.07 61.2,153.5 61.76,153.2 62.32,153.55 62.89,153.64 63.45,153.4 64.01,153.17 64.57,153.32 65.14,153.58 65.7,153.17 66.26,153.12 66.82,153.53 67.39,153.36 67.95,153.2 68.51,153 69.07,153.47 69.64,153.16 70.2,152.86 70.76,153.06 71.32,152.96 71.89,152.9 72.45,153.08 73.01,153.22 73.57,153.04 74.14,153.08 74.7,153.2 75.26,152.88 75.82,153.2 76.39,153.13 76.95,152.95 77.51,152.92 78.07,152.88" fill="none" stroke="#000" stroke-width="1.7" stroke-linejoin="round" stroke-linecap="round"/>
<g filter="url(#blur1)" opacity="0.13">
<rect x="95.6" y="148.04" width="21.75" height="8.58" fill="#d8d8d8"/>
<rect x="87.7" y="150.72" width="7.9" height="5.36" fill="#dcdcdc"/>
</g>
<rect x="95.2" y="132.5" width="22.35" height="1.8" fill="#b4b4b4"/>
<line x1="86.2" y1="149.51" x2="119.7" y2="149.51" stroke="#000" stroke-width="0.75" stroke-dasharray="1.9 1.2"/>
<line x1="86.2" y1="153.4" x2="119.7" y2="153.4" stroke="#000" stroke-width="0.75" stroke-dasharray="1.9 1.2"/>
<path d="M86.2 132V167.8H119.7" fill="none" stroke="#000" stroke-width="1.4"/>
<line x1="83.9" y1="140" x2="86.2" y2="140" stroke="#000" stroke-width="0.9"/>
<line x1="83.9" y1="153.4" x2="86.2" y2="153.4" stroke="#000" stroke-width="0.9"/>
<line x1="83.9" y1="166.8" x2="86.2" y2="166.8" stroke="#000" stroke-width="0.9"/>
<line x1="88.1" y1="167.8" x2="88.1" y2="170.1" stroke="#000" stroke-width="0.9"/>
<line x1="95.6" y1="167.8" x2="95.6" y2="170.1" stroke="#000" stroke-width="0.9"/>
<line x1="103.1" y1="167.8" x2="103.1" y2="170.1" stroke="#000" stroke-width="0.9"/>
<line x1="110.6" y1="167.8" x2="110.6" y2="170.1" stroke="#000" stroke-width="0.9"/>
<line x1="117.35" y1="167.8" x2="117.35" y2="170.1" stroke="#000" stroke-width="0.9"/>
<polyline points="88.1,153.88 88.66,154.08 89.22,153.53 89.79,153.5 90.35,153.74 90.91,153.56 91.47,153.82 92.04,153.78 92.6,153.71 93.16,153.42 93.72,153.69 94.29,153.17 94.85,153.72 95.41,153.61 95.41,153.68 95.6,153.23 95.79,153.43 95.97,153.31 96.16,153.35 96.35,153.1 96.54,153.19 96.91,153.21 97.29,152.96 97.85,152.88 98.41,152.85 98.97,152.28 99.54,152.27 100.1,152.17 100.66,151.92 101.22,152.13 101.79,152.24 102.35,152.32 102.91,152.44 103.47,152.38 104.04,152.91 104.6,152.54 105.16,152.41 105.72,152.45 106.29,152.58 106.85,152.06 107.41,152.49 107.97,152.11 108.54,152.36 109.1,152.41 109.66,152.3 110.22,152.35 110.79,152.3 111.35,152.02 111.91,152.05 112.47,152.35 113.04,152.22 113.6,152.4 114.16,152.44 114.72,152.27 115.29,152.71 115.85,152.43 116.41,152.62 116.97,152.7" fill="none" stroke="#000" stroke-width="1.7" stroke-linejoin="round" stroke-linecap="round"/>
<g filter="url(#blur1)" opacity="0.13">
<rect x="134.5" y="136.78" width="21.75" height="21.98" fill="#d8d8d8"/>
<rect x="126.6" y="150.72" width="7.9" height="5.36" fill="#dcdcdc"/>
</g>
<rect x="134.1" y="132.5" width="22.35" height="1.8" fill="#b4b4b4"/>
<line x1="125.1" y1="149.51" x2="158.6" y2="149.51" stroke="#000" stroke-width="0.75" stroke-dasharray="1.9 1.2"/>
<line x1="125.1" y1="153.4" x2="158.6" y2="153.4" stroke="#000" stroke-width="0.75" stroke-dasharray="1.9 1.2"/>
<path d="M125.1 132V167.8H158.6" fill="none" stroke="#000" stroke-width="1.4"/>
<line x1="122.8" y1="140" x2="125.1" y2="140" stroke="#000" stroke-width="0.9"/>
<line x1="122.8" y1="153.4" x2="125.1" y2="153.4" stroke="#000" stroke-width="0.9"/>
<line x1="122.8" y1="166.8" x2="125.1" y2="166.8" stroke="#000" stroke-width="0.9"/>
<line x1="127" y1="167.8" x2="127" y2="170.1" stroke="#000" stroke-width="0.9"/>
<line x1="134.5" y1="167.8" x2="134.5" y2="170.1" stroke="#000" stroke-width="0.9"/>
<line x1="142" y1="167.8" x2="142" y2="170.1" stroke="#000" stroke-width="0.9"/>
<line x1="149.5" y1="167.8" x2="149.5" y2="170.1" stroke="#000" stroke-width="0.9"/>
<line x1="156.25" y1="167.8" x2="156.25" y2="170.1" stroke="#000" stroke-width="0.9"/>
<polyline points="127,154.16 127.56,153.85 128.12,154.12 128.69,153.76 129.25,153.81 129.81,153.94 130.38,153.78 130.94,153.8 131.5,154.12 132.06,153.8 132.62,153.73 133.19,153.74 133.75,153.47 134.31,153.52 134.31,153.75 134.5,152.1 134.69,150.42 134.88,147.77 135.06,145.64 135.25,145.86 135.44,146.13 135.81,146.43 136.19,147.15 136.75,147.75 137.31,148.61 137.88,148.54 138.44,148.77 139,148.98 139.56,149.41 140.12,149.53 140.69,149.39 141.25,149.18 141.81,149.31 142.38,149.18 142.94,149.4 143.5,149.43 144.06,149.1 144.62,149.54 145.19,149.47 145.75,149.19 146.31,149.12 146.88,149.21 147.44,149.09 148,149.16 148.56,149.04 149.12,148.92 149.69,148.98 150.25,149.12 150.81,149.25 151.38,148.96 151.94,149.3 152.5,149.2 153.06,149.06 153.62,149.19 154.19,149.39 154.75,149.18 155.31,149.29 155.88,149.1" fill="none" stroke="#000" stroke-width="1.7" stroke-linejoin="round" stroke-linecap="round"/>
<g filter="url(#blur1)" opacity="0.13">
<rect x="173.4" y="149.65" width="21.75" height="6.97" fill="#d8d8d8"/>
<rect x="165.5" y="150.72" width="7.9" height="5.36" fill="#dcdcdc"/>
</g>
<rect x="173" y="132.5" width="22.35" height="1.8" fill="#b4b4b4"/>
<line x1="164" y1="149.51" x2="197.5" y2="149.51" stroke="#000" stroke-width="0.75" stroke-dasharray="1.9 1.2"/>
<line x1="164" y1="153.4" x2="197.5" y2="153.4" stroke="#000" stroke-width="0.75" stroke-dasharray="1.9 1.2"/>
<path d="M164 132V167.8H197.5" fill="none" stroke="#000" stroke-width="1.4"/>
<line x1="161.7" y1="140" x2="164" y2="140" stroke="#000" stroke-width="0.9"/>
<line x1="161.7" y1="153.4" x2="164" y2="153.4" stroke="#000" stroke-width="0.9"/>
<line x1="161.7" y1="166.8" x2="164" y2="166.8" stroke="#000" stroke-width="0.9"/>
<line x1="165.9" y1="167.8" x2="165.9" y2="170.1" stroke="#000" stroke-width="0.9"/>
<line x1="173.4" y1="167.8" x2="173.4" y2="170.1" stroke="#000" stroke-width="0.9"/>
<line x1="180.9" y1="167.8" x2="180.9" y2="170.1" stroke="#000" stroke-width="0.9"/>
<line x1="188.4" y1="167.8" x2="188.4" y2="170.1" stroke="#000" stroke-width="0.9"/>
<line x1="195.15" y1="167.8" x2="195.15" y2="170.1" stroke="#000" stroke-width="0.9"/>
<polyline points="165.9,153.63 166.46,153.94 167.03,153.76 167.59,153.72 168.15,154.04 168.71,154.11 169.28,153.75 169.84,154.04 170.4,153.85 170.96,153.5 171.53,153.5 172.09,153.96 172.65,153.96 173.21,153.85 173.21,153.46 173.4,153.97 173.59,153.83 173.78,153.89 173.96,153.87 174.15,153.6 174.34,153.8 174.71,153.63 175.09,153.4 175.65,153.36 176.21,153.52 176.78,153.24 177.34,153.34 177.9,153.15 178.46,153.49 179.03,153.38 179.59,153.21 180.15,152.94 180.71,153.12 181.28,153.18 181.84,153.29 182.4,153.21 182.96,153.19 183.53,152.63 184.09,152.63 184.65,152.56 185.21,152.73 185.78,152.55 186.34,152.75 186.9,152.62 187.46,152.86 188.03,152.7 188.59,152.83 189.15,152.95 189.71,152.44 190.28,152.99 190.84,152.5 191.4,152.55 191.96,152.91 192.53,152.63 193.09,152.28 193.65,152.5 194.21,152.99 194.78,153.08" fill="none" stroke="#000" stroke-width="1.7" stroke-linejoin="round" stroke-linecap="round"/>
<g filter="url(#blur1)" opacity="0.13">
<rect x="212.3" y="141.34" width="21.75" height="16.08" fill="#d8d8d8"/>
<rect x="204.4" y="150.72" width="7.9" height="5.36" fill="#dcdcdc"/>
</g>
<rect x="211.9" y="132.5" width="22.35" height="1.8" fill="#b4b4b4"/>
<line x1="202.9" y1="149.51" x2="236.4" y2="149.51" stroke="#000" stroke-width="0.75" stroke-dasharray="1.9 1.2"/>
<line x1="202.9" y1="153.4" x2="236.4" y2="153.4" stroke="#000" stroke-width="0.75" stroke-dasharray="1.9 1.2"/>
<path d="M202.9 132V167.8H236.4" fill="none" stroke="#000" stroke-width="1.4"/>
<line x1="200.6" y1="140" x2="202.9" y2="140" stroke="#000" stroke-width="0.9"/>
<line x1="200.6" y1="153.4" x2="202.9" y2="153.4" stroke="#000" stroke-width="0.9"/>
<line x1="200.6" y1="166.8" x2="202.9" y2="166.8" stroke="#000" stroke-width="0.9"/>
<line x1="204.8" y1="167.8" x2="204.8" y2="170.1" stroke="#000" stroke-width="0.9"/>
<line x1="212.3" y1="167.8" x2="212.3" y2="170.1" stroke="#000" stroke-width="0.9"/>
<line x1="219.8" y1="167.8" x2="219.8" y2="170.1" stroke="#000" stroke-width="0.9"/>
<line x1="227.3" y1="167.8" x2="227.3" y2="170.1" stroke="#000" stroke-width="0.9"/>
<line x1="234.05" y1="167.8" x2="234.05" y2="170.1" stroke="#000" stroke-width="0.9"/>
<polyline points="204.8,153.24 205.36,153.33 205.92,153.45 206.49,153.81 207.05,153.77 207.61,153.56 208.17,153.53 208.74,154.07 209.3,154.01 209.86,153.53 210.42,154 210.99,153.62 211.55,153.8 212.11,153.37 212.11,153.23 212.3,153.21 212.49,153.14 212.67,152.98 212.86,152.58 213.05,152.38 213.24,152.32 213.61,151.75 213.99,151.03 214.55,150.21 215.11,149.48 215.67,148.89 216.24,148.86 216.8,148.5 217.36,148.48 217.92,148.56 218.49,149.05 219.05,149.09 219.61,148.91 220.17,149.42 220.74,149.15 221.3,149.7 221.86,149.27 222.42,149.76 222.99,149.34 223.55,149.24 224.11,149.39 224.67,149.32 225.24,149.12 225.8,149.05 226.36,149.56 226.92,149.32 227.49,149.62 228.05,149.38 228.61,149.52 229.17,149.49 229.74,149.18 230.3,149.51 230.86,149.44 231.42,149.52 231.99,148.98 232.55,149.33 233.11,149.42 233.67,149.05" fill="none" stroke="#000" stroke-width="1.7" stroke-linejoin="round" stroke-linecap="round"/>
<g filter="url(#blur1)" opacity="0.13">
<rect x="251.2" y="150.18" width="21.75" height="6.43" fill="#d8d8d8"/>
<rect x="243.3" y="150.72" width="7.9" height="5.36" fill="#dcdcdc"/>
</g>
<rect x="250.8" y="132.5" width="22.35" height="1.8" fill="#b4b4b4"/>
<line x1="241.8" y1="149.51" x2="275.3" y2="149.51" stroke="#000" stroke-width="0.75" stroke-dasharray="1.9 1.2"/>
<line x1="241.8" y1="153.4" x2="275.3" y2="153.4" stroke="#000" stroke-width="0.75" stroke-dasharray="1.9 1.2"/>
<path d="M241.8 132V167.8H275.3" fill="none" stroke="#000" stroke-width="1.4"/>
<line x1="239.5" y1="140" x2="241.8" y2="140" stroke="#000" stroke-width="0.9"/>
<line x1="239.5" y1="153.4" x2="241.8" y2="153.4" stroke="#000" stroke-width="0.9"/>
<line x1="239.5" y1="166.8" x2="241.8" y2="166.8" stroke="#000" stroke-width="0.9"/>
<line x1="243.7" y1="167.8" x2="243.7" y2="170.1" stroke="#000" stroke-width="0.9"/>
<line x1="251.2" y1="167.8" x2="251.2" y2="170.1" stroke="#000" stroke-width="0.9"/>
<line x1="258.7" y1="167.8" x2="258.7" y2="170.1" stroke="#000" stroke-width="0.9"/>
<line x1="266.2" y1="167.8" x2="266.2" y2="170.1" stroke="#000" stroke-width="0.9"/>
<line x1="272.95" y1="167.8" x2="272.95" y2="170.1" stroke="#000" stroke-width="0.9"/>
<polyline points="243.7,153.42 244.26,154.17 244.83,154.29 245.39,153.93 245.95,154.09 246.51,153.62 247.08,153.87 247.64,153.95 248.2,153.8 248.76,153.51 249.33,153.86 249.89,153.5 250.45,153.67 251.01,153.76 251.01,153.59 251.2,153.61 251.39,153.55 251.58,153.27 251.76,153.24 251.95,153.67 252.14,153.18 252.51,153.4 252.89,153.16 253.45,153.22 254.01,153.38 254.58,153.53 255.14,153.07 255.7,153 256.26,153.21 256.83,153.51 257.39,153.04 257.95,153.06 258.51,152.97 259.08,152.88 259.64,152.87 260.2,153 260.76,153.2 261.33,153.1 261.89,153.09 262.45,152.91 263.01,152.98 263.58,152.83 264.14,153 264.7,152.93 265.26,152.67 265.83,152.76 266.39,152.65 266.95,152.78 267.51,153.13 268.08,152.92 268.64,152.97 269.2,152.96 269.76,153.02 270.33,153.01 270.89,152.74 271.45,152.66 272.01,152.71 272.58,152.76" fill="none" stroke="#000" stroke-width="1.7" stroke-linejoin="round" stroke-linecap="round"/>
<g filter="url(#blur1)" opacity="0.13">
<rect x="290.1" y="140" width="21.75" height="18.76" fill="#d8d8d8"/>
<rect x="282.2" y="150.72" width="7.9" height="5.36" fill="#dcdcdc"/>
</g>
<rect x="289.7" y="132.5" width="22.35" height="1.8" fill="#b4b4b4"/>
<line x1="280.7" y1="149.51" x2="314.2" y2="149.51" stroke="#000" stroke-width="0.75" stroke-dasharray="1.9 1.2"/>
<line x1="280.7" y1="153.4" x2="314.2" y2="153.4" stroke="#000" stroke-width="0.75" stroke-dasharray="1.9 1.2"/>
<path d="M280.7 132V167.8H314.2" fill="none" stroke="#000" stroke-width="1.4"/>
<line x1="278.4" y1="140" x2="280.7" y2="140" stroke="#000" stroke-width="0.9"/>
<line x1="278.4" y1="153.4" x2="280.7" y2="153.4" stroke="#000" stroke-width="0.9"/>
<line x1="278.4" y1="166.8" x2="280.7" y2="166.8" stroke="#000" stroke-width="0.9"/>
<line x1="282.6" y1="167.8" x2="282.6" y2="170.1" stroke="#000" stroke-width="0.9"/>
<line x1="290.1" y1="167.8" x2="290.1" y2="170.1" stroke="#000" stroke-width="0.9"/>
<line x1="297.6" y1="167.8" x2="297.6" y2="170.1" stroke="#000" stroke-width="0.9"/>
<line x1="305.1" y1="167.8" x2="305.1" y2="170.1" stroke="#000" stroke-width="0.9"/>
<line x1="311.85" y1="167.8" x2="311.85" y2="170.1" stroke="#000" stroke-width="0.9"/>
<polyline points="282.6,154.07 283.16,153.87 283.72,154.35 284.29,153.68 284.85,153.68 285.41,154.09 285.97,153.54 286.54,153.47 287.1,153.79 287.66,153.22 288.22,153.54 288.79,153.47 289.35,153.32 289.91,153.28 289.91,153.24 290.1,152.65 290.29,151.62 290.47,150.95 290.66,150.33 290.85,149.65 291.04,149.39 291.41,149.19 291.79,148.87 292.35,149.26 292.91,149.07 293.47,149.29 294.04,148.86 294.6,149.37 295.16,149.42 295.72,149.16 296.29,149.46 296.85,149.52 297.41,149.62 297.97,149.82 298.54,150 299.1,150.12 299.66,149.97 300.22,149.78 300.79,149.6 301.35,149.55 301.91,149.26 302.47,149.78 303.04,150.01 303.6,150.28 304.16,150.73 304.72,150.31 305.29,150.09 305.85,150.07 306.41,149.81 306.97,149.91 307.54,149.8 308.1,149.68 308.66,149.34 309.22,149.56 309.79,149.41 310.35,149.52 310.91,149.36 311.47,149.26" fill="none" stroke="#000" stroke-width="1.7" stroke-linejoin="round" stroke-linecap="round"/>
<g filter="url(#blur1)" opacity="0.13">
<rect x="329" y="135.71" width="21.75" height="24.39" fill="#d8d8d8"/>
<rect x="321.1" y="150.72" width="7.9" height="5.36" fill="#dcdcdc"/>
</g>
<rect x="328.6" y="132.5" width="22.35" height="1.8" fill="#b4b4b4"/>
<line x1="319.6" y1="149.51" x2="353.1" y2="149.51" stroke="#000" stroke-width="0.75" stroke-dasharray="1.9 1.2"/>
<line x1="319.6" y1="153.4" x2="353.1" y2="153.4" stroke="#000" stroke-width="0.75" stroke-dasharray="1.9 1.2"/>
<path d="M319.6 132V167.8H353.1" fill="none" stroke="#000" stroke-width="1.4"/>
<line x1="317.3" y1="140" x2="319.6" y2="140" stroke="#000" stroke-width="0.9"/>
<line x1="317.3" y1="153.4" x2="319.6" y2="153.4" stroke="#000" stroke-width="0.9"/>
<line x1="317.3" y1="166.8" x2="319.6" y2="166.8" stroke="#000" stroke-width="0.9"/>
<line x1="321.5" y1="167.8" x2="321.5" y2="170.1" stroke="#000" stroke-width="0.9"/>
<line x1="329" y1="167.8" x2="329" y2="170.1" stroke="#000" stroke-width="0.9"/>
<line x1="336.5" y1="167.8" x2="336.5" y2="170.1" stroke="#000" stroke-width="0.9"/>
<line x1="344" y1="167.8" x2="344" y2="170.1" stroke="#000" stroke-width="0.9"/>
<line x1="350.75" y1="167.8" x2="350.75" y2="170.1" stroke="#000" stroke-width="0.9"/>
<polyline points="321.5,153.83 322.06,153.62 322.62,153.36 323.19,153.57 323.75,153.68 324.31,153.79 324.88,153.9 325.44,153.35 326,153.5 326.56,153.79 327.12,153.51 327.69,153.38 328.25,153.2 328.81,153.54 328.81,153.52 329,151.99 329.19,150.13 329.38,148.42 329.56,147.05 329.75,145.94 329.94,145.94 330.31,146.41 330.69,146.65 331.25,146.97 331.81,147.73 332.38,148.19 332.94,148.47 333.5,148.63 334.06,148.62 334.62,149.28 335.19,148.98 335.75,149.06 336.31,149.07 336.88,149 337.44,148.63 338,148.53 338.56,148.55 339.12,148.41 339.69,148.47 340.25,148.71 340.81,148.71 341.38,148.45 341.94,148.39 342.5,148.19 343.06,148.01 343.62,147.98 344.19,147.77 344.75,148.01 345.31,148.13 345.88,148.18 346.44,148.5 347,148.4 347.56,148.39 348.12,148.66 348.69,148.8 349.25,148.82 349.81,148.71 350.38,148.78" fill="none" stroke="#000" stroke-width="1.7" stroke-linejoin="round" stroke-linecap="round"/>
<g filter="url(#blur1)" opacity="0.13">
<rect x="367.9" y="134.64" width="21.75" height="26.8" fill="#d8d8d8"/>
<rect x="360" y="150.72" width="7.9" height="5.36" fill="#dcdcdc"/>
</g>
<rect x="367.5" y="132.5" width="22.35" height="1.8" fill="#b4b4b4"/>
<line x1="358.5" y1="149.51" x2="392" y2="149.51" stroke="#000" stroke-width="0.75" stroke-dasharray="1.9 1.2"/>
<line x1="358.5" y1="153.4" x2="392" y2="153.4" stroke="#000" stroke-width="0.75" stroke-dasharray="1.9 1.2"/>
<path d="M358.5 132V167.8H392" fill="none" stroke="#000" stroke-width="1.4"/>
<line x1="356.2" y1="140" x2="358.5" y2="140" stroke="#000" stroke-width="0.9"/>
<line x1="356.2" y1="153.4" x2="358.5" y2="153.4" stroke="#000" stroke-width="0.9"/>
<line x1="356.2" y1="166.8" x2="358.5" y2="166.8" stroke="#000" stroke-width="0.9"/>
<line x1="360.4" y1="167.8" x2="360.4" y2="170.1" stroke="#000" stroke-width="0.9"/>
<line x1="367.9" y1="167.8" x2="367.9" y2="170.1" stroke="#000" stroke-width="0.9"/>
<line x1="375.4" y1="167.8" x2="375.4" y2="170.1" stroke="#000" stroke-width="0.9"/>
<line x1="382.9" y1="167.8" x2="382.9" y2="170.1" stroke="#000" stroke-width="0.9"/>
<line x1="389.65" y1="167.8" x2="389.65" y2="170.1" stroke="#000" stroke-width="0.9"/>
<polyline points="360.4,154.04 360.96,153.58 361.52,153.52 362.09,153.82 362.65,153.87 363.21,153.9 363.77,153.95 364.34,153.84 364.9,153.83 365.46,153.39 366.02,153.8 366.59,153.78 367.15,153.28 367.71,153.27 367.71,153.79 367.9,151.57 368.09,149.07 368.27,148.21 368.46,146.82 368.65,145.54 368.84,144.33 369.21,144.9 369.59,144.66 370.15,144.89 370.71,145.46 371.27,145.86 371.84,145.95 372.4,146.12 372.96,146.3 373.52,146.93 374.09,146.72 374.65,147.05 375.21,146.88 375.77,147.05 376.34,147.51 376.9,147.17 377.46,147.1 378.02,147.51 378.59,147.24 379.15,146.81 379.71,147.19 380.27,146.98 380.84,146.78 381.4,146.88 381.96,146.52 382.52,146.9 383.09,146.64 383.65,146.67 384.21,147 384.77,146.51 385.34,146.51 385.9,146.49 386.46,146.95 387.02,146.77 387.59,147.05 388.15,146.72 388.71,146.83 389.27,146.69" fill="none" stroke="#000" stroke-width="1.7" stroke-linejoin="round" stroke-linecap="round"/>
<text x="44" y="142.3" font-size="6.6" text-anchor="end" textLength="8.2" lengthAdjust="spacingAndGlyphs">0.5</text>
<text x="44" y="155.7" font-size="6.6" text-anchor="end" textLength="8.2" lengthAdjust="spacingAndGlyphs">0.0</text>
<text x="44" y="169.1" font-size="6.6" text-anchor="end" textLength="11.6" lengthAdjust="spacingAndGlyphs">−0.5</text>
<text x="47.1" y="176.4" font-size="6.4" text-anchor="middle" textLength="9.8" lengthAdjust="spacingAndGlyphs">−40</text>
<text x="55.9" y="176.4" font-size="6.4" text-anchor="middle" textLength="3.4" lengthAdjust="spacingAndGlyphs">0</text>
<text x="63.6" y="176.4" font-size="6.4" text-anchor="middle" textLength="6.8" lengthAdjust="spacingAndGlyphs">40</text>
<text x="71.3" y="176.4" font-size="6.4" text-anchor="middle" textLength="6.6" lengthAdjust="spacingAndGlyphs">80</text>
<text x="81" y="176.4" font-size="6.4" text-anchor="middle" textLength="8.2" lengthAdjust="spacingAndGlyphs">116</text>
<text x="32" y="186" font-size="7.4" textLength="31" lengthAdjust="spacingAndGlyphs">Time (min)</text>
<text x="12" y="154.6" font-size="8.4" text-anchor="middle" textLength="45" lengthAdjust="spacingAndGlyphs" transform="rotate(-90 12 154.6)">ERK activation</text>
<text x="23.5" y="154.6" font-size="8.4" text-anchor="middle" textLength="59.5" lengthAdjust="spacingAndGlyphs" transform="rotate(-90 23.5 154.6)">(log2 fold change)</text>
<path d="M28.6 168.4V178.4H40" fill="none" stroke="#111" stroke-width="1"/>
<path d="M27 170l1.6-3.2 1.6 3.2z M38.8 176.8l3.2 1.6-3.2 1.6z" fill="#111"/>
<line x1="44.6" y1="192.75" x2="44.6" y2="243.5" stroke="#000" stroke-width="1.2"/>
<line x1="40.8" y1="243" x2="44.6" y2="243" stroke="#000" stroke-width="0.9"/>
<text x="39.1" y="245.2" font-size="6" text-anchor="end" textLength="3.3" lengthAdjust="spacingAndGlyphs">0</text>
<line x1="40.8" y1="230.56" x2="44.6" y2="230.56" stroke="#000" stroke-width="0.9"/>
<text x="39.1" y="232.76" font-size="6" text-anchor="end" textLength="6.5" lengthAdjust="spacingAndGlyphs">25</text>
<line x1="40.8" y1="218.12" x2="44.6" y2="218.12" stroke="#000" stroke-width="0.9"/>
<text x="39.1" y="220.32" font-size="6" text-anchor="end" textLength="6.5" lengthAdjust="spacingAndGlyphs">50</text>
<line x1="40.8" y1="205.69" x2="44.6" y2="205.69" stroke="#000" stroke-width="0.9"/>
<text x="39.1" y="207.89" font-size="6" text-anchor="end" textLength="6.5" lengthAdjust="spacingAndGlyphs">75</text>
<line x1="40.8" y1="193.25" x2="44.6" y2="193.25" stroke="#000" stroke-width="0.9"/>
<text x="39.1" y="195.45" font-size="6" text-anchor="end" textLength="9.7" lengthAdjust="spacingAndGlyphs">100</text>
<text x="26.4" y="218.2" font-size="8.4" text-anchor="middle" textLength="35.7" lengthAdjust="spacingAndGlyphs" transform="rotate(-90 26.4 218.2)">Percentage</text>
<rect x="50.5" y="242.6" width="26" height="0.4" fill="#000"/>
<rect x="50.5" y="193.25" width="26" height="49.35" fill="#fff"/>
<rect x="50.5" y="193.25" width="26" height="49.75" fill="none" stroke="#000" stroke-width="1.1"/>
<line x1="63.5" y1="193.25" x2="63.5" y2="194.44" stroke="#000" stroke-width="1.1"/>
<line x1="59" y1="194.44" x2="68" y2="194.44" stroke="#000" stroke-width="1.3"/>
<line x1="59" y1="243.5" x2="68" y2="243.5" stroke="#000" stroke-width="1.2"/>
<rect x="88.25" y="231.66" width="26" height="8.61" fill="#000"/>
<rect x="88.25" y="193.25" width="26" height="38.41" fill="#fff"/>
<line x1="89.25" y1="234.74" x2="100.05" y2="234.74" stroke="#9a9a9a" stroke-width="0.9"/>
<line x1="102.45" y1="234.74" x2="113.25" y2="234.74" stroke="#9a9a9a" stroke-width="0.9"/>
<rect x="88.25" y="193.25" width="26" height="47.01" fill="none" stroke="#000" stroke-width="1.1"/>
<line x1="101.25" y1="193.25" x2="101.25" y2="200.61" stroke="#000" stroke-width="1.1"/>
<line x1="96.75" y1="200.61" x2="105.75" y2="200.61" stroke="#000" stroke-width="1.3"/>
<line x1="101.25" y1="240.26" x2="101.25" y2="243.3" stroke="#000" stroke-width="1.1"/>
<line x1="96.75" y1="243.3" x2="105.75" y2="243.3" stroke="#000" stroke-width="1.3"/>
<rect x="128" y="222.35" width="26" height="20.65" fill="#000"/>
<rect x="128" y="210.66" width="26" height="11.69" fill="#6a6a6a"/>
<rect x="128" y="206.78" width="26" height="3.88" fill="#b9b9b9"/>
<rect x="128" y="193.25" width="26" height="13.53" fill="#fff"/>
<line x1="128" y1="206.78" x2="154" y2="206.78" stroke="#222" stroke-width="0.6"/>
<line x1="128" y1="210.66" x2="154" y2="210.66" stroke="#222" stroke-width="0.6"/>
<rect x="128" y="193.25" width="26" height="49.75" fill="none" stroke="#000" stroke-width="1.1"/>
<line x1="141" y1="193.25" x2="141" y2="205.99" stroke="#000" stroke-width="1.1"/>
<line x1="136.5" y1="205.99" x2="145.5" y2="205.99" stroke="#000" stroke-width="1.3"/>
<line x1="141" y1="209.67" x2="141" y2="212.01" stroke="#000" stroke-width="1.1"/>
<line x1="136.5" y1="212.01" x2="145.5" y2="212.01" stroke="#000" stroke-width="1.3"/>
<rect x="167.5" y="242.7" width="26" height="0.3" fill="#000"/>
<rect x="167.5" y="240.51" width="26" height="2.19" fill="#6a6a6a"/>
<rect x="167.5" y="193.25" width="26" height="47.26" fill="#fff"/>
<line x1="167.5" y1="240.41" x2="193.5" y2="240.41" stroke="#222" stroke-width="0.6"/>
<line x1="176" y1="241.71" x2="185" y2="241.71" stroke="#000" stroke-width="1.2"/>
<rect x="167.5" y="193.25" width="26" height="49.75" fill="none" stroke="#000" stroke-width="1.1"/>
<line x1="180.5" y1="193.25" x2="180.5" y2="194.34" stroke="#000" stroke-width="1.1"/>
<line x1="176" y1="194.34" x2="185" y2="194.34" stroke="#000" stroke-width="1.3"/>
<rect x="205" y="224.99" width="26" height="18.01" fill="#000"/>
<rect x="205" y="216.68" width="26" height="8.31" fill="#6a6a6a"/>
<rect x="205" y="193.25" width="26" height="23.43" fill="#fff"/>
<line x1="205" y1="216.68" x2="231" y2="216.68" stroke="#222" stroke-width="0.6"/>
<path d="M213.4 216.68H222.6L218.8 220.84L222.6 224.99H213.4L217.2 220.84z" fill="#000"/>
<line x1="218" y1="217.18" x2="218" y2="224.69" stroke="#e8e8e8" stroke-width="0.7"/>
<rect x="205" y="193.25" width="26" height="49.75" fill="none" stroke="#000" stroke-width="1.1"/>
<line x1="218" y1="193.25" x2="218" y2="198.57" stroke="#000" stroke-width="1.1"/>
<line x1="213.5" y1="198.57" x2="222.5" y2="198.57" stroke="#000" stroke-width="1.3"/>
<rect x="247" y="241.71" width="26" height="1.29" fill="#000"/>
<rect x="247" y="193.25" width="26" height="48.46" fill="#fff"/>
<rect x="247" y="193.25" width="26" height="49.75" fill="none" stroke="#000" stroke-width="1.1"/>
<line x1="260" y1="193.25" x2="260" y2="194.05" stroke="#000" stroke-width="1.1"/>
<line x1="255.5" y1="194.05" x2="264.5" y2="194.05" stroke="#000" stroke-width="1.3"/>
<line x1="255.5" y1="243.5" x2="264.5" y2="243.5" stroke="#000" stroke-width="1.2"/>
<rect x="285.6" y="234.69" width="26" height="8.31" fill="#000"/>
<rect x="285.6" y="221.01" width="26" height="13.68" fill="#6a6a6a"/>
<rect x="285.6" y="218.32" width="26" height="2.69" fill="#b9b9b9"/>
<rect x="285.6" y="193.25" width="26" height="25.07" fill="#fff"/>
<line x1="285.6" y1="218.22" x2="311.6" y2="218.22" stroke="#222" stroke-width="0.6"/>
<line x1="285.6" y1="221.01" x2="311.6" y2="221.01" stroke="#222" stroke-width="0.6"/>
<rect x="285.6" y="193.25" width="26" height="49.75" fill="none" stroke="#000" stroke-width="1.1"/>
<line x1="298.6" y1="193.25" x2="298.6" y2="202.11" stroke="#000" stroke-width="1.1"/>
<line x1="294.1" y1="202.11" x2="303.1" y2="202.11" stroke="#000" stroke-width="1.3"/>
<line x1="298.6" y1="218.32" x2="298.6" y2="222.3" stroke="#000" stroke-width="1.1"/>
<line x1="294.1" y1="222.3" x2="303.1" y2="222.3" stroke="#000" stroke-width="1.3"/>
<line x1="298.6" y1="243" x2="298.6" y2="243.6" stroke="#000" stroke-width="1.1"/>
<line x1="294.1" y1="243.6" x2="303.1" y2="243.6" stroke="#000" stroke-width="1.3"/>
<rect x="324.5" y="221.31" width="26" height="21.69" fill="#000"/>
<rect x="324.5" y="208.67" width="26" height="12.64" fill="#6a6a6a"/>
<rect x="324.5" y="205.69" width="26" height="2.99" fill="#c9c9c9"/>
<rect x="324.5" y="193.25" width="26" height="12.44" fill="#fff"/>
<line x1="324.5" y1="205.19" x2="350.5" y2="205.19" stroke="#222" stroke-width="0.6"/>
<line x1="324.5" y1="208.67" x2="350.5" y2="208.67" stroke="#222" stroke-width="0.6"/>
<rect x="324.5" y="193.25" width="26" height="49.75" fill="none" stroke="#000" stroke-width="1.1"/>
<line x1="337.5" y1="193.25" x2="337.5" y2="201.76" stroke="#000" stroke-width="1.1"/>
<line x1="333" y1="201.76" x2="342" y2="201.76" stroke="#000" stroke-width="1.3"/>
<line x1="337.5" y1="205.19" x2="337.5" y2="217.63" stroke="#000" stroke-width="1.1"/>
<line x1="333" y1="217.63" x2="342" y2="217.63" stroke="#000" stroke-width="1.3"/>
<rect x="362.4" y="212.75" width="26" height="30.25" fill="#000"/>
<rect x="362.4" y="198.03" width="26" height="14.73" fill="#6a6a6a"/>
<rect x="362.4" y="196.63" width="26" height="1.39" fill="#b9b9b9"/>
<rect x="362.4" y="193.25" width="26" height="3.38" fill="#fff"/>
<line x1="362.4" y1="196.63" x2="388.4" y2="196.63" stroke="#222" stroke-width="0.6"/>
<rect x="362.4" y="193.25" width="26" height="49.75" fill="none" stroke="#000" stroke-width="1.1"/>
<line x1="375.4" y1="193.25" x2="375.4" y2="196.53" stroke="#000" stroke-width="1.1"/>
<line x1="370.9" y1="196.53" x2="379.9" y2="196.53" stroke="#000" stroke-width="1.3"/>
<line x1="375.4" y1="196.53" x2="375.4" y2="204.34" stroke="#000" stroke-width="1.1"/>
<line x1="370.9" y1="204.34" x2="379.9" y2="204.34" stroke="#000" stroke-width="1.3"/>
<text x="28" y="256.8" font-size="6.7" textLength="11.5" lengthAdjust="spacingAndGlyphs">TPO</text>
<text x="28" y="264.86" font-size="6.7" textLength="12" lengthAdjust="spacingAndGlyphs">SCF</text>
<text x="28" y="272.92" font-size="6.7" textLength="19.5" lengthAdjust="spacingAndGlyphs">FLT3L</text>
<text x="28" y="280.98" font-size="6.7" textLength="9.5" lengthAdjust="spacingAndGlyphs">IL3</text>
<text x="28" y="289.04" font-size="6.7" textLength="9.5" lengthAdjust="spacingAndGlyphs">IL6</text>
<text x="28" y="297.1" font-size="6.7" textLength="18.3" lengthAdjust="spacingAndGlyphs">GCSF</text>
<text x="28" y="306.1" font-size="6.7" textLength="4.8" lengthAdjust="spacingAndGlyphs">N</text>
<text x="28" y="314.4" font-size="6.7" textLength="3.6" lengthAdjust="spacingAndGlyphs">n</text>
<circle cx="63.5" cy="254.4" r="2.65" fill="#fff" stroke="#000" stroke-width="1.3"/>
<circle cx="63.5" cy="262.46" r="2.65" fill="#fff" stroke="#000" stroke-width="1.3"/>
<circle cx="63.5" cy="270.52" r="2.65" fill="#fff" stroke="#000" stroke-width="1.3"/>
<circle cx="63.5" cy="278.58" r="2.65" fill="#fff" stroke="#000" stroke-width="1.3"/>
<circle cx="63.5" cy="286.64" r="2.65" fill="#fff" stroke="#000" stroke-width="1.3"/>
<circle cx="63.5" cy="294.7" r="2.65" fill="#fff" stroke="#000" stroke-width="1.3"/>
<text x="63.5" y="306.1" font-size="6.7" text-anchor="middle">3</text>
<text x="63.5" y="314.4" font-size="6.7" text-anchor="middle" textLength="7.1" lengthAdjust="spacingAndGlyphs">55</text>
<circle cx="101.25" cy="254.4" r="3.3" fill="#000"/>
<circle cx="101.25" cy="262.46" r="2.65" fill="#fff" stroke="#000" stroke-width="1.3"/>
<circle cx="101.25" cy="270.52" r="2.65" fill="#fff" stroke="#000" stroke-width="1.3"/>
<circle cx="101.25" cy="278.58" r="2.65" fill="#fff" stroke="#000" stroke-width="1.3"/>
<circle cx="101.25" cy="286.64" r="2.65" fill="#fff" stroke="#000" stroke-width="1.3"/>
<circle cx="101.25" cy="294.7" r="2.65" fill="#fff" stroke="#000" stroke-width="1.3"/>
<text x="101.25" y="306.1" font-size="6.7" text-anchor="middle">3</text>
<text x="101.25" y="314.4" font-size="6.7" text-anchor="middle" textLength="7.1" lengthAdjust="spacingAndGlyphs">48</text>
<circle cx="141" cy="254.4" r="2.65" fill="#fff" stroke="#000" stroke-width="1.3"/>
<circle cx="141" cy="262.46" r="3.3" fill="#000"/>
<circle cx="141" cy="270.52" r="2.65" fill="#fff" stroke="#000" stroke-width="1.3"/>
<circle cx="141" cy="278.58" r="2.65" fill="#fff" stroke="#000" stroke-width="1.3"/>
<circle cx="141" cy="286.64" r="2.65" fill="#fff" stroke="#000" stroke-width="1.3"/>
<circle cx="141" cy="294.7" r="2.65" fill="#fff" stroke="#000" stroke-width="1.3"/>
<text x="141" y="306.1" font-size="6.7" text-anchor="middle">3</text>
<text x="141" y="314.4" font-size="6.7" text-anchor="middle" textLength="10.65" lengthAdjust="spacingAndGlyphs">113</text>
<circle cx="180.5" cy="254.4" r="2.65" fill="#fff" stroke="#000" stroke-width="1.3"/>
<circle cx="180.5" cy="262.46" r="2.65" fill="#fff" stroke="#000" stroke-width="1.3"/>
<circle cx="180.5" cy="270.52" r="3.3" fill="#000"/>
<circle cx="180.5" cy="278.58" r="2.65" fill="#fff" stroke="#000" stroke-width="1.3"/>
<circle cx="180.5" cy="286.64" r="2.65" fill="#fff" stroke="#000" stroke-width="1.3"/>
<circle cx="180.5" cy="294.7" r="2.65" fill="#fff" stroke="#000" stroke-width="1.3"/>
<text x="180.5" y="306.1" font-size="6.7" text-anchor="middle">3</text>
<text x="180.5" y="314.4" font-size="6.7" text-anchor="middle" textLength="7.1" lengthAdjust="spacingAndGlyphs">69</text>
<circle cx="218" cy="254.4" r="2.65" fill="#fff" stroke="#000" stroke-width="1.3"/>
<circle cx="218" cy="262.46" r="2.65" fill="#fff" stroke="#000" stroke-width="1.3"/>
<circle cx="218" cy="270.52" r="2.65" fill="#fff" stroke="#000" stroke-width="1.3"/>
<circle cx="218" cy="278.58" r="3.3" fill="#000"/>
<circle cx="218" cy="286.64" r="2.65" fill="#fff" stroke="#000" stroke-width="1.3"/>
<circle cx="218" cy="294.7" r="2.65" fill="#fff" stroke="#000" stroke-width="1.3"/>
<text x="218" y="306.1" font-size="6.7" text-anchor="middle">3</text>
<text x="218" y="314.4" font-size="6.7" text-anchor="middle" textLength="7.1" lengthAdjust="spacingAndGlyphs">58</text>
<circle cx="260" cy="254.4" r="2.65" fill="#fff" stroke="#000" stroke-width="1.3"/>
<circle cx="260" cy="262.46" r="2.65" fill="#fff" stroke="#000" stroke-width="1.3"/>
<circle cx="260" cy="270.52" r="2.65" fill="#fff" stroke="#000" stroke-width="1.3"/>
<circle cx="260" cy="278.58" r="2.65" fill="#fff" stroke="#000" stroke-width="1.3"/>
<circle cx="260" cy="286.64" r="3.3" fill="#000"/>
<circle cx="260" cy="294.7" r="2.65" fill="#fff" stroke="#000" stroke-width="1.3"/>
<text x="260" y="306.1" font-size="6.7" text-anchor="middle">3</text>
<text x="260" y="314.4" font-size="6.7" text-anchor="middle" textLength="7.1" lengthAdjust="spacingAndGlyphs">49</text>
<circle cx="298.6" cy="254.4" r="2.65" fill="#fff" stroke="#000" stroke-width="1.3"/>
<circle cx="298.6" cy="262.46" r="2.65" fill="#fff" stroke="#000" stroke-width="1.3"/>
<circle cx="298.6" cy="270.52" r="2.65" fill="#fff" stroke="#000" stroke-width="1.3"/>
<circle cx="298.6" cy="278.58" r="2.65" fill="#fff" stroke="#000" stroke-width="1.3"/>
<circle cx="298.6" cy="286.64" r="2.65" fill="#fff" stroke="#000" stroke-width="1.3"/>
<circle cx="298.6" cy="294.7" r="3.3" fill="#000"/>
<text x="298.6" y="306.1" font-size="6.7" text-anchor="middle">3</text>
<text x="298.6" y="314.4" font-size="6.7" text-anchor="middle" textLength="7.1" lengthAdjust="spacingAndGlyphs">49</text>
<circle cx="337.5" cy="254.4" r="3.3" fill="#000"/>
<circle cx="337.5" cy="262.46" r="3.3" fill="#000"/>
<circle cx="337.5" cy="270.52" r="3.3" fill="#000"/>
<circle cx="337.5" cy="278.58" r="2.65" fill="#fff" stroke="#000" stroke-width="1.3"/>
<circle cx="337.5" cy="286.64" r="2.65" fill="#fff" stroke="#000" stroke-width="1.3"/>
<circle cx="337.5" cy="294.7" r="2.65" fill="#fff" stroke="#000" stroke-width="1.3"/>
<text x="337.5" y="306.1" font-size="6.7" text-anchor="middle">3</text>
<text x="337.5" y="314.4" font-size="6.7" text-anchor="middle" textLength="7.1" lengthAdjust="spacingAndGlyphs">86</text>
<circle cx="375.4" cy="254.4" r="2.65" fill="#fff" stroke="#000" stroke-width="1.3"/>
<circle cx="375.4" cy="262.46" r="3.3" fill="#000"/>
<circle cx="375.4" cy="270.52" r="3.3" fill="#000"/>
<circle cx="375.4" cy="278.58" r="3.3" fill="#000"/>
<circle cx="375.4" cy="286.64" r="3.3" fill="#000"/>
<circle cx="375.4" cy="294.7" r="3.3" fill="#000"/>
<text x="375.4" y="306.1" font-size="6.7" text-anchor="middle">3</text>
<text x="375.4" y="314.4" font-size="6.7" text-anchor="middle" textLength="10.65" lengthAdjust="spacingAndGlyphs">108</text>
<text x="167.5" y="328.9" font-size="8.8" textLength="73.8" lengthAdjust="spacingAndGlyphs">Cytokine combinations</text>
<line x1="455.9" y1="22.35" x2="455.9" y2="168.7" stroke="#000" stroke-width="1"/>
<line x1="453.4" y1="168.2" x2="455.9" y2="168.2" stroke="#000" stroke-width="0.9"/>
<text x="451.6" y="170.9" font-size="7.7" text-anchor="end">0</text>
<line x1="453.4" y1="131.86" x2="455.9" y2="131.86" stroke="#000" stroke-width="0.9"/>
<text x="451.6" y="134.56" font-size="7.7" text-anchor="end">25</text>
<line x1="453.4" y1="95.52" x2="455.9" y2="95.52" stroke="#000" stroke-width="0.9"/>
<text x="451.6" y="98.22" font-size="7.7" text-anchor="end">50</text>
<line x1="453.4" y1="59.19" x2="455.9" y2="59.19" stroke="#000" stroke-width="0.9"/>
<text x="451.6" y="61.89" font-size="7.7" text-anchor="end">75</text>
<line x1="453.4" y1="22.85" x2="455.9" y2="22.85" stroke="#000" stroke-width="0.9"/>
<text x="451.6" y="25.55" font-size="7.7" text-anchor="end">100</text>
<text x="435" y="95" font-size="8.4" text-anchor="middle" textLength="38.5" lengthAdjust="spacingAndGlyphs" transform="rotate(-90 435 95)">Percentage</text>
<rect x="460.2" y="153.08" width="26" height="15.12" fill="#000"/>
<rect x="460.2" y="96.4" width="26" height="56.69" fill="#6a6a6a"/>
<rect x="460.2" y="65" width="26" height="31.4" fill="#b9b9b9"/>
<rect x="460.2" y="22.85" width="26" height="42.15" fill="#fff"/>
<line x1="460.2" y1="96.4" x2="486.2" y2="96.4" stroke="#000" stroke-width="0.8"/>
<line x1="460.2" y1="65" x2="486.2" y2="65" stroke="#000" stroke-width="0.8"/>
<rect x="460.2" y="22.85" width="26" height="145.35" fill="none" stroke="#000" stroke-width="1.3"/>
<line x1="473.2" y1="22.85" x2="473.2" y2="42.62" stroke="#000" stroke-width="0.9"/>
<line x1="468.6" y1="42.62" x2="477.8" y2="42.62" stroke="#000" stroke-width="1"/>
<line x1="473.2" y1="65" x2="473.2" y2="80.99" stroke="#000" stroke-width="0.9"/>
<line x1="468.6" y1="80.99" x2="477.8" y2="80.99" stroke="#000" stroke-width="1"/>
<line x1="473.2" y1="96.4" x2="473.2" y2="120.23" stroke="#000" stroke-width="0.9"/>
<line x1="468.6" y1="120.23" x2="477.8" y2="120.23" stroke="#000" stroke-width="1"/>
<rect x="489" y="106.43" width="25.6" height="61.77" fill="#000"/>
<rect x="489" y="73" width="25.6" height="33.43" fill="#6a6a6a"/>
<rect x="489" y="59.19" width="25.6" height="13.81" fill="#b9b9b9"/>
<rect x="489" y="22.85" width="25.6" height="36.34" fill="#fff"/>
<line x1="489" y1="73" x2="514.6" y2="73" stroke="#000" stroke-width="0.8"/>
<line x1="489" y1="59.19" x2="514.6" y2="59.19" stroke="#000" stroke-width="0.8"/>
<rect x="489" y="22.85" width="25.6" height="145.35" fill="none" stroke="#000" stroke-width="1.3"/>
<line x1="501.8" y1="22.85" x2="501.8" y2="57.3" stroke="#000" stroke-width="0.9"/>
<line x1="497.2" y1="57.3" x2="506.4" y2="57.3" stroke="#000" stroke-width="1"/>
<line x1="501.8" y1="59.19" x2="501.8" y2="71.54" stroke="#000" stroke-width="0.9"/>
<line x1="497.2" y1="71.54" x2="506.4" y2="71.54" stroke="#000" stroke-width="1"/>
<line x1="501.8" y1="73" x2="501.8" y2="79.54" stroke="#000" stroke-width="0.9"/>
<line x1="497.2" y1="79.54" x2="506.4" y2="79.54" stroke="#000" stroke-width="1"/>
<text x="478.2" y="158.2" font-size="7.4" fill="#fff" style="fill:#fff" textLength="29.6" lengthAdjust="spacingAndGlyphs"><tspan font-style="italic">P</tspan>=0.036</text>
<line x1="477" y1="161.6" x2="494.8" y2="161.6" stroke="#fff" stroke-width="1.1"/>
<text x="478.4" y="174.6" font-size="8" text-anchor="end" transform="rotate(-45 478.4 174.6)">HSC</text>
<text x="509.4" y="174.6" font-size="8" text-anchor="end" transform="rotate(-45 509.4 174.6)">MPP</text>
</svg>
</body></html>
